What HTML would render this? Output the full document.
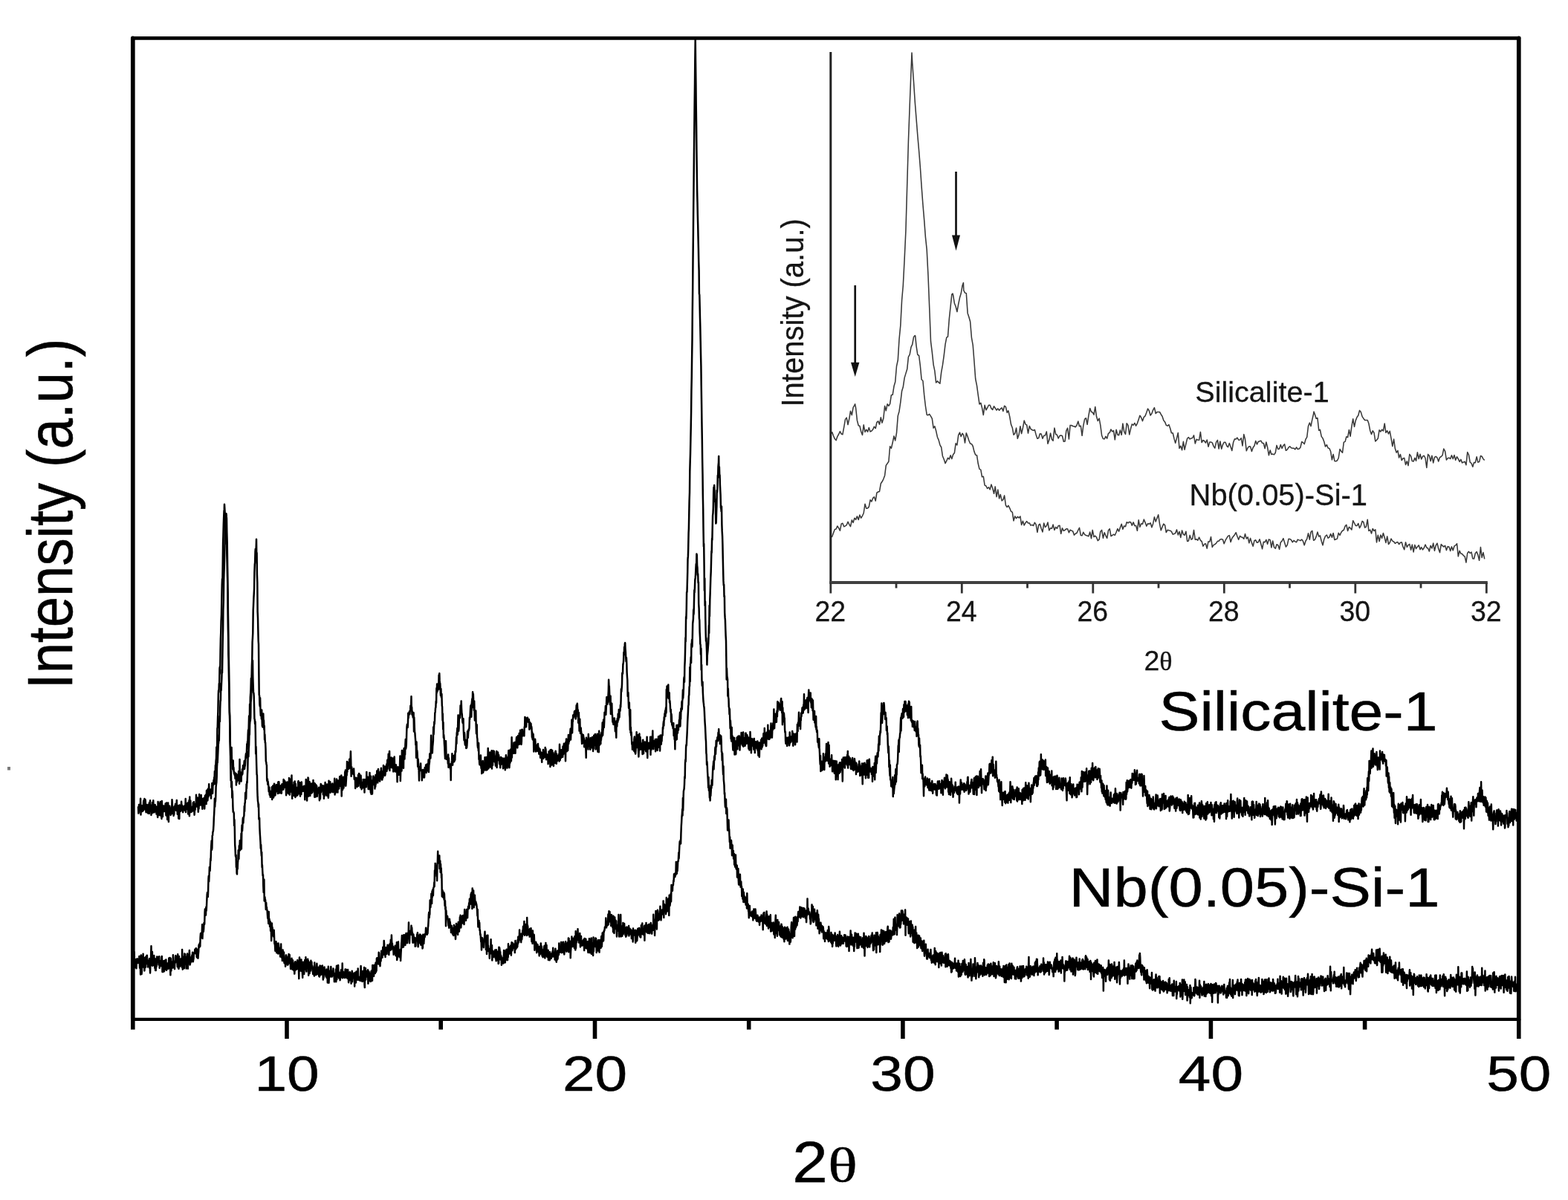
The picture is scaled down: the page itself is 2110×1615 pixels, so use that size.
<!DOCTYPE html>
<html lang="en">
<head>
<meta charset="utf-8">
<title>XRD patterns: Silicalite-1 and Nb(0.05)-Si-1</title>
<style>
html,body{margin:0;padding:0;background:#fff;}
body{width:2110px;height:1615px;overflow:hidden;}
svg{display:block;}
text{font-kerning:none;}
</style>
</head>
<body>
<svg width="2110" height="1615" viewBox="0 0 2110 1615" font-family="'Liberation Sans', Arial, sans-serif" fill="#000">
<rect width="2110" height="1615" fill="#fff"/>
<g id="main-curves" fill="none" stroke="#000" stroke-width="2.5" stroke-linejoin="round" stroke-linecap="round">
<path d="M186 1086.2l.4 8.4 .3-.8 .3-10.9 .4 1.4 .3-1.4 .4 7 .3-3.9 .4 5.1 .3-16.3 .4 21.6 .3-10.5 .4 5 .3-5.1 .4-1.5 .3 5.4 .4 2.3 .3-6.4 .4 .3 .3 5.4 .4-9.8 .3-4 .4 12.1 .3-6.7 .4-7.8 .3 7 .4 2.3 .3-8.3 .4 1.9 .3 9.7 .4 5.5 .3-7.1 .4-3.2 .3 7.2 .4 2.1 .3-6.3 .4 5.3 .3 3.2 .4-8.5 .3-3.1 .4 7.4 .3-.6 .4 5.4 .3-15 .4 1.8 .3 1 .4-5.6 .3 11.8 .4 2.5 .3-7.9 .4 13.4 .3-3.6 .4-1.2 .3-1.4 .4 3.5 .3-14.3 .4 12.2 .3 0 .4-14.9 .3 13.3 .4-3.7 .3 6.5 .4-7.7 .3 2.7 .4 2.3 .3-7.6 .4 9.3 .3-4.4 .4 3.8 .3-6.4 .4 10.1 .3-3 .4-4.9 .3 5.2 .4 3.9 .3 3.4 .4-21.2 .3 15.5 .4-2.6 .3-3.5 .4-5.7 .3 14.3 .4-15.9 .3 11.6 .4 4.6 .3-18.2 .4 8.2 .3-6.4 .4 9.9 .3 8 .4 3.2 .3-23.9 .4 7.6 .3 8.1 .4 5.5 .3-7.3 .4-7.3 .3 6.6 .4-2 .3-1.1 .4-3.3 .3 7.1 .4-.5 .3-2.5 .4-.8 .3-6.7 .4 5.1 .3 10.7 .4-8.8 .3-7.9 .4 17.5 .3-5 .4 10 .3-12.9 .4-3.3 .3-6.2 .4 17.5 .3 7.9 .4-21.4 .3 1.2 .4 7.8 .3-8.9 .4 3.5 .3-.5 .4 3.5 .3 5.7 .4-6.8 .3 5.6 .4-8.4 .3 4.6 .4-15.6 .3 4.3 .4 14.1 .3-8.7 .4 7.3 .3-.3 .4 4.9 .3-3.3 .4 1.3 .3-7.2 .4-3.7 .3-.3 .4 1.5 .3-4.1 .4 3.7 .3 2.8 .4 2.1 .3-4.8 .4-9 .3 11.6 .4 1.9 .3 5.3 .4-3.2 .3-7.7 .4-.6 .3 17.2 .4-8 .3 6.8 .4 1.8 .3-18.6 .4 7.5 .3 .4 .4 .6 .3-.1 .4-2.2 .3-.2 .4-10.6 .3 8.4 .4-3.8 .3 5.5 .4-3.8 .3 6.8 .4 1.2 .3-3.2 .4 0 .3-1.5 .4-3.4 .3 1.7 .4-2.1 .3 5.5 .4-2.4 .3 3.5 .4-16.2 .3 18.1 .4-10.5 .3 .2 .4 3.3 .3-2.3 .4 5.3 .3-5.5 .4-3.2 .3 1.4 .4 13.6 .3-8.1 .4-7.6 .3 7.3 .4-9.9 .3 21.1 .4-25.8 .3 17.4 .4 .4 .3-12.6 .4 11 .3 4.3 .4-3.4 .3-1.3 .4 4.3 .3-5 .4 1 .3-2.9 .4 4.7 .3-10 .4 10.9 .3-8.2 .4-3.7 .3 9.1 .4 8.3 .3-4.6 .4-9.6 .3 7.4 .4-7.5 .3 1.8 .4 1.1 .3-15.5 .4 15.6 .3-8 .4 1.8 .3-5.1 .4-.6 .3 3.4 .4 10.8 .3 5.1 .4-11 .3 6.8 .4-8.8 .3-10.7 .4 12.8 .3 1.6 .4-5.8 .3 4.3 .4 1.5 .3-9.4 .4-4.1 .3 7.6 .4-.2 .3-1.1 .4 8.2 .3 4.3 .4-13.7 .3 6.7 .4 1.3 .3-1.7 .4 1.8 .3-9.3 .4 6.8 .3 7.7 .4-8.2 .3-9.4 .4 7.2 .3 3.6 .4-6.1 .3-6.3 .4 12.7 .3-18 .4 10.5 .3-3.8 .4-7.9 .3 14.8 .4-6 .3-10.1 .4 10.7 .3-7 .4-9.8 .3 7.2 .4 5.5 .3 1.9 .4-3.5 .3-1.2 .4 2.1 .3-4.7 .4 11.9 .3-10.7 .4 .5 .3 .9 .4-11.3 .3 .9 .4 12.9 .3-8.8 .4-5.2 .3 2.7 .4-6.5 .3 3.5 .4-7.2 .3 4.7 .4-12.9 .3 17 .4-12.9 .3-12 .4 1.8 .3-7.8 .4-3.6 .3-15 .4 4.1 .3 11.7 .4-41.4 .3-.3 .4-14.6 .3-7.3 .4-23.1 .3-5.3 .4 2.1 .3-11.3 .4 2.5 .3-22.8 .4-2.5 .3 9.1 .4-31.2 .3-15.5 .4-9.1 .3-14.6 .4-9 .3-19.1 .4-20.2 .3-8.4 .4 1.3 .3-18.6 .4-31.3 .3-9 .4-15.4 .3-8.6 .4-9.5 .3-2.3 .2-7.1 .2 3.6 .3 5.2 .4 6.1 .3 7.3 .4 8.1 .3 4.4 .4 2.6 .3 16.1 .4-1 .3 14.6 .4 11.9 .3 17.7 .4 15.9 .3 7.8 .4 47.3 .3 22.3 .4 16.6 .3 31.2 .4 19.3 .3 22.6 .4 5.2 .3 34.4 .4 8.2 .3 10.2 .4 4.8 .3 .8 .4-12.9 .3-3.2 .4 20.9 .3-.1 .4 8.2 .3-5.5 .4 3.6 .3-9.4 .4 13.6 .3-4.2 .4 6.4 .3 2.1 .4-2.2 .3 4.1 .4-1.1 .3 5.5 .4-1.1 .3-5.9 .4 .3 .3 15.3 .4-11 .3 7.5 .4-3.1 .3-5.4 .4-1.5 .3 5.1 .4 .4 .3 1.8 .4-12.2 .3 3.8 .4 2.7 .3 10.3 .4-32.9 .3 24.7 .4-6.6 .3 5.7 .4-6.3 .3 5 .4 7.2 .3-8.1 .4 .1 .3-.8 .4-7.5 .3 6.5 .4-6.3 .3-5.3 .4 3.3 .3-2.8 .4 4.6 .3-6.6 .4-4.6 .3 10.9 .4-4.5 .3 .2 .4-5.9 .3-6.2 .4-3.7 .3-.9 .4 6 .3-7 .4-11.8 .3 7.3 .4-10.4 .3 4.5 .4-14.2 .3-5.8 .4 3.2 .3-6.7 .4-15.5 .3 9.7 .4 3.5 .3-29.1 .4 13.8 .3-22.8 .4-5.8 .3-5 .4-15 .3 10.3 .4-12.1 .3-14.8 .4-10 .3-21.9 .4-6.6 .3-5.9 .4-30.7 .3-5.9 .4-10.4 .3-5.2 .4-7.7 .3-21 .4-11.4 .3-2.1 .4-14.8 .3-3.9 .4 4.6 .3-.4 .4-13.1 .1-4.1 .2 17 .4 1.5 .3 28.8 .4 10.5 .3 39.5 .4 8.1 .3 15 .4 16.6 .3 4.4 .4 41.3 .3 26.8 .4 .9 .3 11.6 .4 3 .3-11.6 .4 18.3 .3 5.4 .4-4.4 .3 .9 .4 8 .3-11.9 .4 13 .3 8.8 .4-13.5 .3 14.8 .4-8.2 .3-9.8 .4 13.1 .3-4.2 .4 12.5 .3-5 .4 18.4 .3-6.9 .4 11.2 .3-.4 .4 8.7 .3 16.5 .4 .9 .3 3.1 .4 1.6 .3 20 .4 1.1 .3-2.8 .4 7.4 .3-4.1 .4 3.9 .3 1.7 .4 8 .3 .1 .4-6 .3 9.9 .4 .8 .3-3.3 .4 5.9 .3-7.8 .4 1.6 .3 4.3 .4-3.2 .3 4.9 .4-13.2 .3 16.6 .4-14.2 .3 3.6 .4-7.9 .3 12.1 .4 4 .3-1.6 .4-1.8 .3-15.4 .4 4.6 .3 1.7 .4-3.3 .3 12.7 .4-6.2 .3-1.6 .4 2.9 .3-9.4 .4 .1 .3 0 .4 8.6 .3-1.1 .4 1.3 .3 3.1 .4-15.5 .3 4.9 .4 4.3 .3-9.6 .4 5.1 .3 9.6 .4 .4 .3-.3 .4-6.6 .3-1.8 .4 8 .3-9.3 .4 4.4 .3 6.1 .4-10.8 .3-1.7 .4 3.7 .3 3.8 .4-.7 .3-2 .4 2.5 .3-13.5 .4 4.7 .3 6.5 .4-6.9 .3-2.6 .4 .9 .3 1.9 .4 4.1 .3-4.7 .4 7.9 .3 9.3 .4-11.6 .3 9 .4-6.2 .3-8.8 .4 5.4 .3-4.5 .4 11.1 .3-12.1 .4 15.6 .3-4.6 .4-16.4 .3 17.7 .4 4.9 .3-14.7 .4 11.2 .3-17.5 .4 12.9 .3-12 .4 13.6 .3-14.3 .4-5.3 .3 19.1 .4 12 .3-18.2 .4 9 .3-4.4 .4-2.8 .3 6 .4 6.5 .3-18.1 .4 11.4 .3-1.4 .4-11.1 .3 19.2 .4 2.1 .3-18.2 .4 17 .3-10.6 .4-1.3 .3 10.5 .4-8 .3 .6 .4 7.6 .3-1.4 .4-2.5 .3-14.4 .4-1.1 .3 17.1 .4-12.9 .3 6.8 .4-7.7 .3 5.7 .4-6.9 .3 18.4 .4-16.7 .3 5.7 .4-.4 .3 8.8 .4-16.5 .3 8.8 .4-1.1 .3 4.7 .4-.3 .3-5.9 .4 4.5 .3-3.9 .4 5.4 .3-3.6 .4-3.4 .3 3.9 .4 2.5 .3 12.1 .4-17.4 .3 5.1 .4 7.3 .3-22.3 .4 2.1 .3 3.5 .4 6.8 .3 16.1 .4-12.9 .3 5.1 .4-9 .3-14.1 .4 .9 .3 24.2 .4-8.4 .3-9.4 .4 15.2 .3-16.7 .4 16.8 .3 2 .4-13.9 .3-2.2 .4 12.3 .3-12.2 .4 12.3 .3-12.9 .4 12.6 .3-4.5 .4-3.3 .3-2.9 .4 7.1 .3-13.4 .4 10.2 .3-.8 .4 6.8 .3-12.2 .4 18.7 .3-12.8 .4-5.2 .3 15.9 .4 1.8 .3-11.7 .4-4.4 .3 5.7 .4-4.4 .3 2.3 .4 11.8 .3-7.3 .4-1.6 .3 1.3 .4-2.6 .3 5.7 .4 .2 .3-7.8 .4 3 .3 14.5 .4-12.5 .3-3.9 .4 14.1 .3-12.8 .4-7 .3 11.1 .4-9.9 .3 2.6 .4 5.2 .3-2.9 .4-4 .3 1.3 .4-.2 .3 11 .4-11.8 .3 .9 .4 16.4 .3-16.3 .4 12.9 .3-1.1 .4-9.3 .3-7.9 .4 11.8 .3 1.3 .4 1.9 .3-5.6 .4 7.1 .3 1.2 .4-15.4 .3 15.6 .4-7.9 .3-4.7 .4 1.6 .3 13.8 .4-5.6 .3-17.5 .4 11.8 .3-1.5 .4-.3 .3-2.3 .4-6.1 .3 14.5 .4-11.5 .3 3.5 .4-1.6 .3-.9 .4 9.1 .3-2.4 .4-6.8 .3-1.8 .4 2.9 .3 8.9 .4-5.4 .3 .5 .4-3.7 .3 .4 .4 2.8 .3-13.1 .4 21.7 .3-15.3 .4 1.3 .3 11.8 .4-7.1 .3-1.3 .4-4 .3-6.3 .4 10.8 .3 6.3 .4-13.4 .3 14.2 .4-15.8 .3 2.3 .4 7.7 .3-3.3 .4 4.2 .3-9.2 .4-1.9 .3-5.4 .4 4 .3 .7 .4-2.3 .3 10.8 .4-6.3 .3-8.4 .4 28 .3-21 .4-2.8 .3 15.6 .4-.6 .3-14.8 .4-2.1 .3 2.4 .4 12.2 .3-10.2 .4-4.3 .3 3.8 .4 6.6 .3-17.6 .4 5.2 .3-7.4 .4 21.2 .3-3.4 .4-6.6 .3-8 .4 3.8 .3-18.6 .4 13.8 .3-11.3 .4-1.1 .3 2.8 .4 1 .3 4.7 .4-.4 .3-3.9 .4-8.8 .3 9.1 .4-6.2 .3 8.8 .4-11.9 .3-10.3 .4 15.7 .3 17.8 .4-9.2 .3-2.9 .4 8.1 .3-1.1 .4 1.1 .3-4.9 .4 4.8 .3 1.3 .4-4.8 .3-2.5 .4 8.4 .3 5.8 .4-1.5 .3-.5 .4 .6 .3 13.6 .4-14.2 .3 5.5 .4 6.2 .3-11.4 .4 1.8 .3 5.4 .4 4.6 .3-8.2 .4 .8 .3-1.2 .4-7.6 .3 15.1 .4-8.1 .3-8.8 .4 10.5 .3-9.5 .4 4.8 .3 6.4 .4-5.9 .3 12.6 .4-16 .3 10.9 .4 1.9 .3 5.6 .4-3.3 .3-4.4 .4-.9 .3-.9 .4 7.5 .3-11.3 .4 7.4 .3-3.8 .4 2.1 .3-3.2 .4 15.1 .3-17.6 .4 5.8 .3 .1 .4 2.1 .3-1 .4-.2 .3 3.6 .4-20.4 .3 14.2 .4-7.8 .3 9.2 .4-8.9 .3 1.4 .4 5.7 .3 9.2 .4-5.2 .3-1.8 .4 7 .3-14.8 .4-7.2 .3 10.5 .4 .9 .3 9.6 .4 5.7 .3-21.9 .4 24 .3-5.8 .4-4.5 .3-3 .4 13 .3-14.8 .4-3.5 .3 3.9 .4-9.5 .3 11.6 .4-3.7 .3 2.8 .4 .2 .3-9 .4 15 .3-14.7 .4 12 .3-15.6 .4 12.3 .3-7.9 .4 5 .3-4.9 .4-10.2 .3 6.2 .4 6.9 .3 3 .4-13.7 .3-4.7 .4 7.4 .3 3.6 .4-3.1 .3-1.7 .4 10 .3 .2 .4-2 .3-11.1 .4 5.9 .3-2.2 .4-8.3 .3 14 .4-5.5 .3-4.2 .4 11.5 .3-4.7 .4 .1 .3 1.6 .4-3.5 .3-13.1 .4 5 .3 8.3 .4-11.7 .3 4.6 .4 1.7 .3 5.9 .4-1.7 .3-3.3 .4-7.6 .3 6.1 .4-1.5 .3-7.3 .4 9.2 .3-6.2 .4-8.7 .3 11.9 .4-10.3 .3 4.5 .4-14.1 .3 8.6 .4-6.6 .3-.8 .4-5.1 .3 26.2 .4-13.7 .3 3.2 .4 6.2 .3-7.1 .4 4.8 .3-11.1 .4 10.5 .3-3.1 .4 6.5 .3-1.3 .4-9.2 .3-2.2 .4 6 .3 11.8 .4-1.3 .3 .5 .4-15 .3-4 .4 13.2 .3 2.1 .4-1.5 .3 6.2 .4-3.1 .3-6.2 .4 2.2 .3 6.7 .4-.3 .3-.7 .4 15 .3-15.7 .4 2.6 .3-6.8 .4 4.2 .3 5.8 .4 .5 .3-4.4 .4 3.7 .3-1.9 .4-12.5 .3-10.3 .4 33.7 .3-10.8 .4-7.1 .3-12.1 .4 1.4 .3 15.1 .4-27.6 .3 14 .4 6 .3-6 .4 2.3 .3-7.1 .4 14.5 .3-23.1 .4-3.6 .3 8.8 .4 5.8 .3-10.9 .4 4.9 .3-13.3 .4-7.4 .3 12.9 .4-2.3 .3-3.6 .4-15.8 .3-7.9 .4-3.4 .3 2.6 .4 1.7 .3-3.8 .4-15.6 .3 6.9 .4-4.5 .3-.7 .4-1.8 .3-2.3 .4 3.9 .3-4.1 .4-.5 .3-6.9 .4 5.7 .3-4.4 .4-13.7 .3 16.8 .4-2.3 .3 10 .4-4.4 .3 2.8 .4 4.4 .3 1 .4-.3 .3-6 .4 25.3 .3-19.1 .4 10.3 .3 8.8 .4 1.8 .3 4.7 .4 4.7 .3 6.7 .4-2.6 .3 19.9 .4-21.2 .3 11.3 .4-.2 .3 2.4 .4 8.7 .3 10.9 .4-10.2 .3 3.5 .4 10.2 .3-.5 .4 15.8 .3-11.3 .4-4.4 .3-2.8 .4 4.2 .3-1.8 .4-6.8 .3 9.4 .4-.5 .3 .3 .4-.5 .3 14 .4-5.5 .3 2.2 .4-9 .3-1.9 .4 4.9 .3 2.8 .4-4.4 .3 .4 .4 6.7 .3-4.8 .4-8.7 .3 2.9 .4-2.1 .3 4.7 .4-9.1 .3 5.6 .4 4.9 .3-4.8 .4-6.5 .3 1.2 .4 4.1 .3 1.7 .4 1.6 .3-6.8 .4-8 .3 16.7 .4-9.2 .3-1.7 .4-2.9 .3-10.8 .4 2.2 .3 2.1 .4 1.7 .3-8.5 .4-22.3 .3 15.8 .4 1.4 .3 3.6 .4-6 .3 8.9 .4-9.1 .3-2.8 .4-4.9 .3-18.2 .4 10 .3-5.6 .4-11.2 .3 3 .4-5.2 .3-9.6 .4-1.9 .3-4.9 .4-1 .3-8.2 .4 2.1 .3-19.6 .4 6.2 .3-12.1 .4 5.4 .3 4.1 .4-5.4 .3-3 .4-1.1 .3 7.2 .4-19 .3 10.3 .4-12.7 .3 9.7 .4 7.1 .3-3.2 .4 9.8 .3 6.4 .4-8.9 .3 10.2 .4 1.7 .3-4.9 .4 15.9 .3 1.1 .4 18.3 .3-9 .4 21.1 .3-9.2 .4 20.5 .3-3.9 .4 4.4 .3 7.1 .4 5.5 .3 8 .4 7 .3-11.7 .4-4.3 .3-7.6 .4 15.8 .3 8.6 .4-1 .3-.2 .4-1.6 .3-.4 .4 3.6 .3 5.6 .4-12.1 .3 17.1 .4-12.4 .3 9.5 .4-1.6 .3 3.1 .4-2.9 .3 .7 .4 5.9 .3-6.4 .4 21.4 .3-19.1 .4-2.5 .3-.2 .4-4.3 .3-9.7 .4 12.9 .3 2.6 .4-12.4 .3 8.6 .4-8.6 .3 6.4 .4 1.5 .3-.1 .4-1.3 .3-8.1 .4 6.9 .3-11.7 .4 1.7 .3-1.2 .4-9.7 .3-9.5 .4 8.6 .3-14.3 .4-1.9 .3-4.7 .4 8.9 .3-9.7 .4-16.5 .3 15.4 .4 5.8 .3-3.7 .4-17 .3 2 .4 .7 .3 .4 .4-7.5 .3-9.1 .4 9.6 .3-2.9 .4-12.9 .3 9.1 .4 7 .3 1.2 .4 6.3 .3 4.7 .4 1.4 .3-1.1 .4-4.8 .3 15.3 .4 7.7 .3 6 .4-10.2 .3 2.4 .4 11.8 .3 2.4 .4-4.4 .3 4.8 .4-6.9 .3 10.9 .4-6.4 .3 5.9 .4-3.2 .3-5.5 .4-13.6 .3 4.7 .4 4 .3-5.8 .4-5.4 .3 1.8 .4-1.7 .3-2.3 .4-13.7 .3 2.3 .4-5.1 .3-6.2 .4-6.7 .3 6.1 .4-7.7 .3 16.3 .4-17 .3-3.6 .4-3.9 .3 11.6 .4-20.6 .3 3.1 .4-.5 .3 7.5 .4 4 .3 10.5 .4-12.4 .3 12.2 .4 13.7 .3-10 .4 5.5 .3-1.1 .4-7.4 .3 19.3 .4 11.6 .3-6.9 .4-5.1 .3 16.8 .4 2.3 .3 9.3 .4 2.9 .3-3.9 .4 7.7 .3-10.3 .4 21.8 .3-2.3 .4 8.1 .3 1.6 .4-6.7 .3 2.6 .4-2.8 .3-5.8 .4 14 .3 3.5 .4-6 .3 13 .4-4 .3 1.9 .4-8.2 .3-6.7 .4 15.6 .3-1.5 .4-4.9 .3-2.4 .4 .5 .3 .4 .4-2.7 .3-9.9 .4 17.2 .3-14.8 .4 6.9 .3-.3 .4 3.2 .3-12.3 .4 17.4 .3-3.9 .4 .3 .3 2.7 .4-13.5 .3-15.1 .4 21.4 .3 5.8 .4-1.4 .3-11.1 .4 2.4 .3 1.9 .4-13.6 .3 6.8 .4-.3 .3 13.6 .4-14.5 .3 13.6 .4-10.3 .3-11 .4 24.1 .3-20.5 .4 11.5 .3 4.5 .4-14.5 .3-4.8 .4 14 .3-5.9 .4-7.8 .3 1.2 .4 4.6 .3 8.8 .4-7.7 .3 6.2 .4 6.6 .3-2.2 .4 1.4 .3-1.1 .4-17.6 .3 21.9 .4-9.2 .3-2.6 .4-5.8 .3-2.9 .4 3.3 .3 7.1 .4-7 .3 2.5 .4 1.6 .3 8.3 .4-5.8 .3 1.2 .4 9.6 .3-10.2 .4 6.1 .3-10.2 .4 9 .3-1 .4 1.1 .3-4.3 .4-3.3 .3 4.9 .4-.8 .3 9.7 .4-.5 .3-13.1 .4 11.8 .3-6.7 .4 6.2 .3-5.7 .4-5.9 .3 15.9 .4-3.9 .3-11.3 .4-4.9 .3 7.8 .4-4.9 .3 4.4 .4 5.5 .3 4.6 .4-12.3 .3 10.2 .4-2.1 .3-10.8 .4-8.5 .3 15.1 .4-2.3 .3 10.3 .4-6.6 .3-4.8 .4 4.9 .3-18 .4 7.1 .3-3.7 .4 12 .3-8.2 .4-23.6 .3 27.2 .4-15.1 .3 9.9 .4-8.7 .3 3.8 .4 1.7 .3-3.5 .4-8 .3 14.1 .4-7 .3-3.4 .4 4 .3-8.3 .4 14.7 .3-10.9 .4 .4 .3-.6 .4-8.4 .3-2.2 .4 8.3 .3 .4 .4 5.8 .3-6.1 .4-10.2 .3 9.7 .4 1.4 .3 .6 .4-4.7 .3-10.3 .4 14.5 .3-12.4 .4 7.8 .3-14 .4 14.2 .3-10.2 .4 11.2 .3 3.9 .4-4.3 .3-15.6 .4 .4 .3-.6 .4 8.6 .3-3.1 .4-2.2 .3-.1 .4 .7 .3-.6 .4 5.4 .3-12 .4 .6 .3-14 .4 2.3 .3 2.9 .4-4.2 .3 7.8 .4 4.4 .3-9.8 .4-.8 .3-.7 .4 3.6 .3-4.8 .4 5.6 .3-1.2 .4-.3 .3 2.2 .4-4.1 .3 2.1 .4 11.6 .3-10 .4 6.7 .3-3.2 .4-1.9 .3 1.4 .4-.9 .3 6.7 .4-2.5 .3 2.5 .4 11.8 .3-7.1 .4 9.5 .3-4.1 .4 5.2 .3-7.8 .4 6.2 .3 17.2 .4-10 .3 2.6 .4-3.4 .3 5.4 .4-11.3 .3 3.5 .4 9.5 .3 3.9 .4-6.3 .3 2.9 .4-.3 .3 1.4 .4-6 .3-1.1 .4 8.8 .3-10.1 .4 5.2 .3 2.3 .4-2.1 .3 8.5 .4-4 .3 2.6 .4-5.5 .3 2.1 .4 9.7 .3-2.4 .4-5.1 .3 5.4 .4-1 .3-.1 .4 9.2 .3-12.4 .4 5.3 .3 .1 .4-4 .3-5.7 .4 11.8 .3-2.6 .4-1.2 .3-.1 .4 .2 .3-5.7 .4 7.6 .3-13.1 .4 11.4 .3-9.2 .4 7.3 .3 6.9 .4-6 .3-1.3 .4 6.4 .3-4.8 .4-.8 .3 .3 .4 12.1 .3-5.2 .4-1.1 .3-10.4 .4 11.6 .3-12 .4 11.3 .3-9.9 .4 19.5 .3-22.8 .4 18.4 .3-2.5 .4-16.1 .3 9.8 .4 10.7 .3-1.8 .4-17.7 .3 7 .4-4.3 .3 .7 .4 2.2 .3 15.4 .4-11 .3-2.5 .4-.9 .3 8 .4-2 .3-10.3 .4 14.8 .3-16.3 .4 4.9 .3 4.3 .4 7.7 .3-13.1 .4 3.7 .3 6.2 .4-4.5 .3 3 .4-.8 .3-5.1 .4 2.1 .3 1.6 .4-6.2 .3 10 .4-22.8 .3 6.5 .4 14.7 .3-6.6 .4-7 .3 6.2 .4 4.3 .3-10.6 .4 8.1 .3-5.8 .4-.2 .3 .1 .4 7.2 .3-14.2 .4 4.5 .3 6.2 .4-12 .3-2.5 .4 12.8 .3-4.4 .4-1.8 .3 1 .4-7.8 .3 23.7 .4-25.4 .3 2.6 .4-7 .3 5.5 .4 11.4 .3-10.3 .4 2.8 .3-7.6 .4 13.7 .3-11.2 .4-9.7 .3 11.9 .4-8 .3 5.3 .4-3.8 .3 0 .4-1.6 .3-7.4 .4-4.6 .3 14.7 .4-9 .3 .7 .4-6.7 .3-11.8 .4 2.8 .3 14.8 .4-15.7 .3 .6 .4-8.8 .3 4 .4-1 .3-1.9 .4-.1 .3-5.5 .4-.8 .3 2.4 .4 1.1 .3-4 .4 10.9 .3-10.8 .4-1.3 .3-6.2 .4 10.4 .3-11 .4-1.8 .3 5.9 .4 12 .3-9.2 .4 17.3 .3-6.4 .4-7.4 .3 10 .4 14.6 .3-14.7 .4-1.3 .3 12.9 .4 6.4 .3-.3 .4-7 .3 4.7 .4 2.3 .3 6.8 .4 7.6 .3-12.8 .4 10.4 .3-8.9 .4 7.3 .3-8.1 .4 2.5 .3 8.9 .4-6.8 .3 11.7 .4-9 .3 4 .4-.9 .3-1.5 .4 3 .3 6 .4 12.9 .3-27 .4 9.4 .3-2.9 .4-4.6 .3 7.6 .4-7.2 .3 5.1 .4 8.4 .3-20.5 .4 14.3 .3 1.4 .4-8.8 .3 9.4 .4-1 .3-4.4 .4 9.9 .3-15.8 .4 12.4 .3-5.5 .4-5.1 .3 5.6 .4-1.2 .3 7.3 .4-14.6 .3 8.1 .4-1.8 .3 12.7 .4-17 .3 13.6 .4-17.8 .3 13.1 .4-3.1 .3 3.1 .4-6.9 .3-7.9 .4 2.5 .3 17.9 .4-7.1 .3-6.8 .4 11 .3-10.5 .4 0 .3-7.2 .4 19.1 .3 4.8 .4-18.5 .3 7.8 .4 4.2 .3 7.1 .4-28.5 .3 15.9 .4 3.1 .3-13.5 .4 11.8 .3-1.4 .4 1.4 .3-10.4 .4 5.2 .3-9.6 .4 5.4 .3-4.9 .4-5.6 .3-8.7 .4 17.2 .3-5.6 .4-3.6 .3-11.9 .4-.2 .3 10.6 .4-8 .3-12.2 .4 3.5 .3-1.4 .4-4.1 .3-6.7 .4 11.9 .3-6.2 .4-6.9 .3-10.6 .4 4.2 .3 1.7 .4 3.5 .3-9.7 .4 7.3 .3-8 .4-7.6 .3-14.9 .4 8.3 .3 .2 .4 10.7 .3 5.4 .4 8.9 .3-6.6 .4-5 .3 24.4 .4-10.6 .3-1.3 .4 1.2 .3-3.6 .4 14.8 .3 .6 .4 9.4 .3-1.2 .4 .3 .3 4.3 .4-7.9 .3 .9 .4 4.3 .3-5.8 .4 8.8 .3 .7 .4 8.1 .3-2.5 .4-10.1 .3 14 .4 7.2 .3-22.5 .4 4.6 .3 2.8 .4-10.5 .3 2.8 .4 1.7 .3-10.8 .4 8.1 .3-1.4 .4-12.6 .3 6.1 .4 4.5 .3-10 .4 1.7 .3-.7 .4-7.7 .3 2.9 .4-9.8 .3-14.6 .4 3.6 .3-3.8 .4-6.3 .3-15.1 .4 1.1 .3-.2 .4-13.2 .3 .1 .4-4.3 .3-11.2 .4 3.5 .3-10.7 .4 9 .3-13.4 .4-1.3 .3 8 .4 4.5 .3 7.6 .4 5.3 .3-5.5 .4 8 .3 11.7 .4 6.8 .3 3.5 .4 22 .3-3.5 .4-1.5 .3 11.1 .4 9.8 .3-.1 .4-7.3 .3 16.6 .4 3.4 .3 16.8 .4-27.1 .3 30.8 .4-7.1 .3 10.6 .4-4 .3 6.6 .4 9.7 .3-2.9 .4 9.8 .3-7.2 .4-2 .3 1.2 .4-1.8 .3 2.4 .4 9.3 .3-15.9 .4-3.1 .3 10.4 .4 10.7 .3-4 .4 5.9 .3-4.6 .4-14.7 .3 7.5 .4-17.5 .3 13 .4 7.6 .3-13.6 .4-3.2 .3 4.8 .4 9.6 .3 6 .4 9 .3-7.3 .4-18.6 .3-5 .4 15.5 .3 5.8 .4-16.9 .3 6.9 .4 .5 .3 3.1 .4-1.4 .3 4.4 .4 3.5 .3-6.2 .4 4.3 .3 7.8 .4-19 .3-.1 .4 9.8 .3 8.5 .4-10.6 .3 5.8 .4-8.8 .3 7.7 .4-9.7 .3 8.2 .4-1.7 .3 0 .4 6.2 .3-2 .4-10.5 .3 9.4 .4-16.3 .3 17 .4 11.1 .3-14 .4-.1 .3-2.8 .4 4.9 .3-8.1 .4 7.1 .3-5.9 .4-1 .3 3.5 .4-1.1 .3-10.6 .4 23.9 .3-12.2 .4-11.7 .3 17.4 .4-7 .3 2.4 .4 2.1 .3-10.2 .4-13 .3 17.9 .4 2.1 .3 4.7 .4-11.2 .3 3 .4 4.1 .3-4.5 .4 .3 .3 3.1 .4-7.9 .3 16.1 .4-15.8 .3 5.9 .4-2.3 .3-4.3 .4 9.5 .3 3 .4 2.7 .3-5.6 .4-6.6 .3 8.2 .4-14.6 .3 9.3 .4 2.9 .3 .2 .4-10.9 .3-2.2 .4 19.8 .3-13.8 .4-7.2 .3 1.6 .4 6.1 .3 4.7 .4-9.6 .3 5.4 .4-8.3 .3-.6 .4 1 .3-10.7 .4 2 .3-6.5 .4-3.7 .3 5.9 .4-11.4 .3 3.4 .4-8.2 .3 1.6 .4-5.5 .3 7.5 .4-9.1 .3-2.7 .4 7.1 .3-31.3 .4 8.4 .3-13 .4 14.5 .3 .1 .4-1.5 .3-5.1 .4-9.9 .3 18.3 .4-5.7 .3-.1 .4-1.9 .3 13.2 .4-2.2 .3 3.7 .4 7.6 .3 3.6 .4-3.1 .3 16.6 .4-10.7 .3 2.8 .4 11.4 .3 .6 .4 1.4 .3-1.3 .4 4.6 .3-2 .4-5.1 .3 16.7 .4-9.2 .3 6.6 .4 7.8 .3-3.1 .4 16.2 .3-27.1 .4 3.1 .3 4.3 .4 7 .3-11.1 .4-8.5 .3 18.9 .4-17.7 .3 3.6 .4 5.8 .3-10.8 .4 .4 .3 6.5 .4-6.9 .3 2.1 .4-8.8 .3 3 .4-8.3 .3-5.1 .4 18.7 .3-10.4 .4 .7 .3-14.1 .4 3.8 .3-3.3 .4-9.9 .3 10.2 .4-11.6 .3-1.4 .4-12.9 .3 11.1 .4-6.1 .3-7 .4-12.9 .3-2.3 .4 6.4 .3-20.6 .4-7.8 .3-12 .4-19.1 .3 5.4 .4-33.3 .3 2.7 .4-14.1 .3-21.9 .4-.1 .3-11.1 .4-15.3 .3-17.8 .4-4.3 .3-10.4 .4-21 .3-5.9 .4-20.9 .3-15.9 .4-11.5 .3-28.3 .4-14.6 .3-9.5 .4-20.4 .3-14.2 .4-22.7 .3-26.5 .4-20.2 .3-23.5 .4-25.6 .3-37.2 .4-33.3 .3-37.6 .4-36.6 .3-36.3 .4-35.7 .3-31.6 .4-33.1 .3-30.2 .4-32.2 .3-31.5 .4-30 0 0 .3 30 .4 29 .3 30.4 .4 29.3 .3 31.9 .4 30.3 .3 23.5 .4 15.8 .3 16.1 .4 14.4 .3 15 .4 16.8 .3 17 .4 12.7 .3 31 .4 1.9 .3 13.3 .4 18.2 .3 11.2 .4 19.3 .3 16 .4 17.7 .3 25.2 .4 26.3 .3 23.2 .4 24 .3 25.1 .4 21.8 .3 26.8 .4 19.5 .3 25.9 .4 24.9 .3-3.7 .4 30.1 .3 32.8 .4-16.3 .3 36.5 .4-5.3 .3 24.3 .4 18.9 .3 10 .4-4.1 .3 8.4 .4 10.1 .3 17.4 .4-12.4 .3-3 .4-3.9 .3-4.5 .4-4.6 .3-8.1 .4-16.3 .3 10.2 .4-37 .3 14.6 .4-22.1 .3-8 .4-12.5 .3-9.6 .4-8.3 .3-12.1 .4-15.2 .3 2.1 .4-19.1 .3 1.9 .4-19.5 .3-13.6 .4-3 .3-7.3 .4-21.5 .3-6.1 .4 5.6 .3-8.2 .4 8.1 .3 13.5 .4-1.6 .3-.7 .4 12.1 .3 20 .4-1.1 .3-10.9 .4-11.8 .3-20.7 .4 2.5 .3-4 .4-18.7 .3 3.4 .4-15.3 .3-3.5 .2-1.8 .2-8.7 .3 23.8 .4-9.3 .3 10 .4 1.3 .3 12.7 .4 7.8 .3 5.8 .4 17.2 .3 1.3 .4 4.2 .3-7.2 .4 24.8 .3 8.6 .4 7 .3 10.7 .4 19.8 .3 13.5 .4 16 .3 5.9 .4-1.1 .3 16.2 .4-.9 .3 22.5 .4 6.9 .3 3.2 .4 12.5 .3 8.4 .4 6.9 .3 21.6 .4 30.5 .3-15 .4 10.8 .3 1.4 .4 2.9 .3 22.2 .4-10 .3 11 .4 2.9 .3 10.7 .4 1.2 .3 8.7 .4-7 .3 12 .4 13.9 .3-10.4 .4 6.9 .3 17.5 .4-3.3 .3 6.6 .4-18.4 .3 17.5 .4-6.5 .3 1.7 .4 13 .3 4.7 .4-17 .3 2.3 .4 3.2 .3 2.7 .4-7.7 .3 22.5 .4-10.7 .3-6.1 .4-1.2 .3 17.8 .4-.6 .3-17.4 .4 5.1 .3 5.6 .4-15.6 .3 3.7 .4 12.1 .3-13.1 .4 1.5 .3-5.9 .4 3.6 .3 9 .4-9.7 .3-3.2 .4 4.1 .3 15 .4-10.2 .3-4.8 .4 4.4 .3 1.6 .4-2.1 .3-12.4 .4 13.2 .3-3.4 .4 6.6 .3-14.1 .4 15.1 .3-10 .4-7.8 .3 19.1 .4-11.8 .3 5.6 .4-3.2 .3 8.1 .4 .2 .3 .2 .4-2.3 .3-14.7 .4-.2 .3 12.1 .4-7.2 .3 9.2 .4-1.7 .3-9.9 .4 2.5 .3-.4 .4 1.7 .3 4.5 .4 5.8 .3 4.4 .4-14.6 .3 2.8 .4 13.6 .3-4 .4-4 .3-16.3 .4 8.7 .3 7.6 .4-4.6 .3 16.5 .4-11.9 .3 1.4 .4-8.6 .3 .5 .4 2.6 .3 .4 .4 2.7 .3 4 .4-.7 .3 5 .4-14.8 .3 10.8 .4-.3 .3 8.7 .4-11.3 .3 3.6 .4-7.1 .3 8.1 .4 0 .3-6.4 .4 1.4 .3 2.7 .4 4.1 .3-10.8 .4 13.1 .3-7.7 .4 13.9 .3-3.2 .4-12.2 .3-1.8 .4 19.3 .3-12 .4-.7 .3-6.7 .4 1.6 .3 5.6 .4-1.6 .3-9.5 .4 12.8 .3-6.3 .4-8.4 .3 12.1 .4-7.8 .3 5.7 .4-8.8 .3 5.4 .4-12.9 .3 12.3 .4-12.4 .3 10.4 .4-17.5 .3 15.3 .4 4.7 .3-1.9 .4 4.2 .3-14.8 .4 16.5 .3-.1 .4-18.3 .3 2.3 .4 1.1 .3 3.1 .4 1 .3-17.5 .4 18.8 .3-6 .4-5.5 .3 11.9 .4-8.8 .3 8.7 .4-4.4 .3-6.1 .4 8.9 .3-2.9 .4-9 .3-7.7 .4 6.2 .3 8.7 .4-8 .3 12.1 .4-10.2 .3-1 .4 .7 .3-8.8 .4 3.8 .3-3.6 .4-18.9 .3 10.5 .4 15.1 .3-9.2 .4 .4 .3-10.3 .4 3.9 .3 7.1 .4-6.1 .3-5.6 .4 11.4 .3-11.8 .4-3.5 .3 7.8 .4-20 .3 12.8 .4-12.2 .3 1.2 .4-.2 .3 4.3 .4-1.1 .3 .4 .4-1.5 .3 6.7 .4 1 .3-7.1 .4-.6 .3-5.8 .4-2.3 .3 13 .4-1.3 .3 7.5 .4-14.8 .3 30.9 .4-22.8 .3 10.5 .4 8.4 .3-12.4 .4 8 .3-6.6 .4 6.4 .3-.5 .4 15.7 .3 3.9 .4-1.1 .3 12.7 .4 3.5 .3-6.1 .4-.3 .3-.4 .4-1.3 .3 11.1 .4-6.9 .3-3.7 .4 .5 .3 4.8 .4-6.1 .3 4.4 .4-2.3 .3 8.7 .4-1.3 .3-16.5 .4 7.9 .3 5.4 .4-7.5 .3 7.9 .4-3.1 .3 1.5 .4-4.3 .3 2.2 .4 1.3 .3-12.8 .4 3.5 .3-.8 .4 17 .3-8.9 .4 .4 .3-1.4 .4-4.5 .3-1.5 .4 10 .3-7.9 .4 12.3 .3-8.9 .4-1.9 .3-3.4 .4-.4 .3-.8 .4 8.1 .3 3.7 .4-23.5 .3 7.6 .4 1.4 .3-11.6 .4 .3 .3-.3 .4-13.7 .3 18 .4-5.8 .3-1.7 .4 0 .3-.1 .4 11.9 .3-14.7 .4 3 .3-9.7 .4 4.4 .3-5.4 .4-.1 .3-5.9 .4-.6 .3 6.9 .4 .7 .3-3 .4-8.3 .3 5.1 .4-19.2 .3 20.9 .4-7.4 .3 .9 .4 5.3 .3-10.5 .4 8.3 .3-9.2 .4 5.8 .3-6.4 .4 4 .3 6.9 .4-13.7 .3-.2 .4 1.4 .3 3.5 .4 15.1 .3-21.4 .4-9 .3 9.1 .4-5.5 .3 6.9 .4 4 .3-5.8 .4 2.2 .3-7.1 .4 13.3 .3-5.5 .4 12 .3 .1 .4-11.7 .3 4.6 .4 4.6 .3 6.3 .4-13.5 .3 12 .4 14.1 .3-10.4 .4 3.8 .3 .5 .4-5.6 .3 15.4 .4-2.4 .3 1.2 .4 5.4 .3 2.3 .4-14.8 .3 17.7 .4-3.9 .3 7.4 .4-2.8 .3 1.8 .4 14.3 .3-3.3 .4 1 .3 2.7 .4 5.1 .3 2.1 .4-12 .3 12.2 .4 6.7 .3 9 .4 6.6 .3-11.7 .4 20.9 .3-8.9 .4 4.3 .3-7.3 .4-1.3 .3 12.1 .4-11.2 .3-.1 .4 7.1 .3 2.8 .4-21.2 .3 7.2 .4 .6 .3 10.7 .4 3.3 .3-16.6 .4 1.8 .3 2.3 .4 1 .3-9.9 .4 7.8 .3-9.4 .4-12.1 .3 8.5 .4 10.5 .3 3.9 .4-18.8 .3 3.3 .4 11.6 .3-20.8 .4 25.2 .3 3.4 .4-24.9 .3 24 .4-5.7 .3 10.6 .4-6.8 .3-2.9 .4 2.7 .3 5.5 .4-4.3 .3-.6 .4-9 .3 12.6 .4-2.5 .3 11.8 .4-11.3 .3-.1 .4-3 .3 8.9 .4-5.5 .3-2.8 .4 14.9 .3 1.5 .4-13.7 .3-3.2 .4 13.9 .3-12 .4 23.5 .3-18.3 .4 7.3 .3-13.9 .4 8.4 .3 11.4 .4-7.7 .3-6.1 .4 18.7 .3-11.1 .4-6.4 .3-2.6 .4 1.8 .3 10 .4-13.7 .3 4.9 .4-5.7 .3 12.9 .4-9.3 .3 6.3 .4-2.2 .3-7.5 .4 7.9 .3 1.2 .4-13.5 .3 11.5 .4 17.8 .3-24.7 .4 5.7 .3-12.8 .4 11.1 .3-6.9 .4 8.4 .3-5.5 .4-7.4 .3 14.2 .4-8.6 .3-5.3 .4 6.6 .3-6.9 .4 8.4 .3-3.2 .4-2.2 .3 6.4 .4-12.7 .3 14.1 .4-19.2 .3 22.7 .4-9.3 .3-3.1 .4-3.3 .3 7.9 .4-4.8 .3 .1 .4 8 .3-8.9 .4 1.6 .3 4.6 .4 8.3 .3-11.3 .4 2.3 .3-.4 .4 4.8 .3 5.1 .4-15.1 .3 5.5 .4 .9 .3 4.4 .4 6.1 .3-9.3 .4 1.8 .3 6.2 .4-14.7 .3 3.3 .4 2.4 .3 3.2 .4 1.8 .3-4.4 .4 14.8 .3-15.3 .4 3.6 .3 8.5 .4-1.6 .3-4.7 .4 2.9 .3 3.1 .4-4.9 .3 4.5 .4-9.6 .3 6.6 .4-10.6 .3 5.2 .4-1.3 .3 15.6 .4-10.6 .3 5.2 .4-7.4 .3 4.9 .4-.1 .3-3.6 .4 11 .3-16.1 .4 14.7 .3 13.1 .4-22.2 .3 5.5 .4-10.1 .3 9.8 .4-10.9 .3 15.2 .4-7.1 .3-8.7 .4 3.6 .3-1.8 .4 8.4 .3 10.4 .4-11.1 .3-4.9 .4 2.2 .3 6.2 .4-16.3 .3 19.4 .4 .4 .3-19.9 .4 23.4 .3-18 .4 9.1 .3 9 .4-18 .3-7.1 .4 10.5 .3 .3 .4 6.1 .3-2.4 .4 .2 .3 .2 .4 2 .3-4.3 .4 7.7 .3-2.1 .4-6.4 .3 18.3 .4-19.8 .3 12.9 .4-9.9 .3 5.7 .4-.5 .3 .7 .4 2.1 .3-16 .4 22.3 .3-17.3 .4-9.3 .3-5 .4 22.3 .3-6 .4-12.1 .3 3.5 .4 2.1 .3-9.4 .4-4.8 .3 1 .4 4.1 .3-6.7 .4-10.2 .3 9 .4-19.7 .3 2.5 .4 9 .3-10.2 .4-3.8 .3-4.5 .4 2.2 .3-10.8 .4-16 .3 10.4 .4-23.2 .3 4.9 .4 21.8 .3-5.1 .4-11.3 .3 .9 .4-.6 .3 4.3 .4-15.2 .3-.1 .4 3.5 .3 7.3 .4 3.2 .3-1.8 .4 9.8 .3-9.1 .4 8.5 .3-1.6 .4 .4 .3 16.8 .4-5.7 .3 .1 .4 11.3 .3-2.2 .4 14.9 .3 6.2 .4 5.7 .3-8.9 .4 10.4 .3 17.4 .4-8.7 .3 14.1 .4 6.2 .3-14.2 .4 19.8 .3-1 .4 2.7 .3 7.2 .4-6 .3-.5 .4 5.3 .3-4.2 .4 7.4 .3-14.3 .4 26.1 .3-12.6 .4 8.8 .3-.2 .4-4.4 .3-3 .4-3.4 .3-14 .4 4 .3 8.2 .4-17.3 .3-3.3 .4 17.4 .3-8.9 .4-.7 .3-13.2 .4-1.2 .3 .1 .4-4.3 .3-7.9 .4-12.6 .3 1 .4-8.7 .3 16.1 .4-16.4 .3-2.3 .4-.8 .3-5.4 .4-.4 .3-11.2 .4-9.5 .3 17.4 .4-19.6 .3-.4 .4-3.2 .3 .5 .4 2.5 .3 3.5 .4-12.7 .3 7.4 .4-7.3 .3 10.9 .4-16.8 .3 7.4 .4 2.8 .3-14.4 .4 8.2 .3-.9 .4-7.2 .3 4.4 .4 8.4 .3-4 .4-3.6 .3 2 .4 4.9 .3 6 .4-2.4 .3 .3 .4 6 .3-19.1 .4 1.4 .3-4.7 .4 20.5 .3-19.2 .4 15.1 .3 5.9 .4-12.8 .3 5.6 .4 3.4 .3 7.2 .4-18.3 .3 17.4 .4 3.3 .3-2.7 .4 1 .3 7.8 .4-5.7 .3-.7 .4-1.1 .3 7.2 .4-6 .3 7.6 .4-3.1 .3 6.8 .4-11.8 .3 5.9 .4 2 .3 .8 .4 4.9 .3-4.3 .4 3.6 .3 7 .4-6.7 .3-11.7 .4-2 .3 13.6 .4-3.6 .3 7.8 .4 .5 .3 12.9 .4 2.8 .3-11.2 .4 12.4 .3-.2 .4-2.9 .3 15.9 .4-1.5 .3 7.1 .4 16 .3-4.1 .4 1.7 .3-6.4 .4-1.7 .3 18.4 .4-6.6 .3 5.3 .4 .5 .3 6.2 .4 17.7 .3-17 .4 .3 .3 3.2 .4 .6 .3-9.2 .4-3.5 .3 7.6 .4 2.5 .3-3.5 .4-1.2 .3 .5 .4 3.5 .3 1.9 .4-9.4 .3 6.9 .4 5.8 .3-2.9 .4-7.6 .3 6.4 .4 2.3 .3 5 .4-14.9 .3 14.7 .4-7.1 .3 4.3 .4 3.1 .3-9.6 .4 .5 .3 4.5 .4 5.4 .3-7.9 .4-5.3 .3 4.6 .4 7 .3 5 .4-10.4 .3 1.3 .4 1 .3 .4 .4-5 .3 3.3 .4 4.3 .3-.6 .4-.4 .3-6.3 .4 2.9 .3-1.3 .4 10.8 .3 2.3 .4-6.3 .3 6.7 .4-12.1 .3-.2 .4-6.6 .3 9.4 .4-4.6 .3 3.2 .4 2.2 .3-4.8 .4-5.7 .3 6.5 .4-.5 .3 .4 .4 3.8 .3-5.8 .4-.6 .3 12.3 .4-4.4 .3-7.5 .4-5.5 .3 2.8 .4 4.9 .3 2.7 .4 9.5 .3-16.8 .4 2.2 .3-3.4 .4 2.5 .3-3.1 .4-4.5 .3 12.8 .4-5.7 .3 7.4 .4-10.9 .3 5 .4 2.7 .3-15.6 .4 3.7 .3 13.2 .4-3.8 .3-11.9 .4 7.1 .3-1.7 .4 3.7 .3 12.9 .4-13 .3 16.5 .4-14 .3-2.8 .4 14.6 .3-3.6 .4 2.9 .3 3.7 .4-5.2 .3 1.2 .4-18.1 .3 5.8 .4 8.1 .3-1.2 .4 3.4 .3-7.2 .4 10.2 .3 5.8 .4-8.7 .3 1.8 .4-1.8 .3 2.9 .4-4.2 .3-4.3 .4 4.6 .3-.3 .4-10 .3 11.2 .4-1 .3 1.3 .4-4.5 .3 6.7 .4 1.1 .3-8.1 .4 6.6 .3 3.1 .4 0 .3-10.2 .4-.4 .3 6.7 .4-6.5 .3 21.9 .4-20.8 .3-.1 .4 8.9 .3-7.2 .4-11.8 .3 13.5 .4-5.4 .3 2.7 .4-6.9 .3 4.2 .4 4.5 .3 .3 .4-6.6 .3 2.3 .4-1 .3 6 .4-2 .3-7 .4 11.6 .3-8.5 .4 6.6 .3-8.2 .4 7.4 .3-2.8 .4 1 .3 2.6 .4-.6 .3-1.8 .4-.2 .3-9 .4 7.3 .3-13.3 .4-.5 .3 11.9 .4 .4 .3 10.5 .4-5.3 .3 2.6 .4-8.9 .3 4.5 .4 4.4 .3-4.1 .4-1.2 .3-1.7 .4-6.5 .3 0 .4-3.4 .3 11.3 .4-4.4 .3-2.6 .4 6.2 .3-5.9 .4 10 .3 5.2 .4-9.2 .3-7.2 .4-5.2 .3 21.7 .4-9.8 .3-10.3 .4 13.9 .3-17.2 .4 7.5 .3 1.1 .4-.9 .3-8.6 .4 25.5 .3-17.6 .4 4.8 .3-2.3 .4-10.3 .3 6.4 .4 4.6 .3 4.3 .4-8.1 .3 5.4 .4-5.6 .3 5.7 .4-19.3 .3 19.1 .4-7.8 .3 .1 .4-14.2 .3 10.9 .4 10.4 .3 10.5 .4-19 .3 .1 .4 7.1 .3-1.4 .4-5.6 .3 2.5 .4-1.5 .3 6.1 .4 1 .3 5.9 .4-5.4 .3-1.7 .4-3.3 .3 4.7 .4-12.1 .3 19.5 .4-11.9 .3 7 .4-14 .3 11.2 .4-4.9 .3-4.7 .4-4 .3-2.3 .4 15.8 .3-4.6 .4-7.9 .3-.5 .4-6.7 .3-8 .4-.7 .3 6.5 .4 1.8 .3-7.3 .4 11.8 .3-2.2 .4-2.6 .3-12.5 .4 9.2 .3 .7 .4-8.1 .3-6.3 .4 25.4 .3-8.6 .4-6.8 .3 12.8 .4-1.9 .3-2.9 .4-.2 .3 4.7 .4 5.5 .3-7.5 .4-.7 .3 6.4 .4-20.2 .3 19.5 .4-1.9 .3 4 .4 .5 .3 4.8 .4 0 .3 1.3 .4 .3 .3 5.2 .4-4.6 .3 10.9 .4-15.2 .3 13.4 .4 3 .3-9.3 .4 6.8 .3 12.6 .4-7.7 .3-3.2 .4-13 .3 20.9 .4-1.5 .3 3.2 .4 9.1 .3-12.9 .4 .8 .3-5.1 .4 3.9 .3 .2 .4 5 .3-1.3 .4-8.3 .3 1.8 .4 11.7 .3-14.7 .4 10.7 .3 5.5 .4-6.1 .3-2.5 .4 7 .3-6.4 .4-2.3 .3-1.2 .4 8.5 .3-2.8 .4 5.3 .3-11.8 .4 .1 .3-.7 .4 4.5 .3-6.2 .4 10.2 .3-3.7 .4-8.3 .3-12.5 .4 7.2 .3 20.6 .4-9.5 .3 1.3 .4-3.6 .3 5.2 .4-14.6 .3-.5 .4 2.3 .3 10.7 .4 4 .3-1.4 .4-3.8 .3-7.3 .4 13.1 .3-6.8 .4 1.7 .3-.4 .4-2.5 .3-1.6 .4 .9 .3-4.5 .4 9.7 .3-2.6 .4 7.5 .3-17.8 .4 18.8 .3-7.9 .4-.6 .3-4.2 .4-.2 .3-4.3 .4 14.9 .3-7.1 .4 5.7 .3 .6 .4-8.4 .3 1.5 .4-.8 .3 8.5 .4-5.7 .3 .1 .4 3.4 .3-5.2 .4 13.3 .3-18.9 .4 13.7 .3 .8 .4-16.1 .3 12.5 .4-3.8 .3 6.3 .4-15.9 .3 9 .4-7.8 .3 4 .4 10.9 .3-9.9 .4-13.5 .3 5.3 .4 1.5 .3 13.5 .4-10.9 .3-5.5 .4 16.7 .3-5.6 .4 .5 .3-7.3 .4 13.9 .3-9.9 .4-11.8 .3 5.2 .4 1.7 .3 4.2 .4 5.7 .3-9.5 .4 .7 .3 17.6 .4-13.5 .3-4 .4 3.4 .3-8.7 .4 10.4 .3 1.8 .4-10.6 .3 9.1 .4-9 .3 2.7 .4-7.3 .3-1.3 .4-5.2 .3 9.9 .4-4 .3-.7 .4-6.4 .3-1.1 .4 2.5 .3 6 .4-1.9 .3-7.1 .4 5.3 .3 8.3 .4-11.2 .3 11.2 .4-9.5 .3 7.6 .4-16.7 .3 9.9 .4-15.7 .3 8.2 .4-4.5 .3-11.3 .4-1.1 .3 19.2 .4-4.9 .3 4.2 .4-7.7 .3-20.4 .4 19.8 .3-6.7 .4-.5 .3-.4 .4-2.9 .3-2 .4 13 .3-5.6 .4-6.1 .3 2.3 .4 9.7 .3-2.9 .4-.4 .3-8.1 .4 5.9 .3-3.6 .4-4.1 .3 21.3 .4-9.6 .3 .3 .4-2.6 .3 11.6 .4 9.3 .3-8.9 .4 2.7 .3-13.2 .4 9.5 .3 .8 .4 8.5 .3-8.8 .4-5.4 .3 6 .4-1.8 .3 12.4 .4-4.4 .3-1.5 .4-.5 .3 4.7 .4-7.9 .3-2.2 .4-5.5 .3 19.8 .4-3.7 .3 1.3 .4-3.2 .3 10.7 .4-16.4 .3 13.9 .4-12.8 .3 2.7 .4-4.7 .3 8.4 .4-2.2 .3 4.6 .4-6.2 .3-4.9 .4 12.5 .3 4.7 .4-3.4 .3-4.8 .4 3.1 .3-13.1 .4 8.7 .3 9.6 .4-4.3 .3-8.1 .4 10.9 .3-6 .4 5.5 .3-13.3 .4 5.7 .3 5.6 .4 0 .3 1.7 .4-3.4 .3-1 .4 4.4 .3 2.6 .4-14.8 .3 7.6 .4 .9 .3 2.5 .4 5.5 .3-14.6 .4 11.9 .3-14.1 .4 6.3 .3 1.7 .4 1.7 .3-2 .4 .7 .3 1.2 .4 .5 .3-9.8 .4 2.8 .3 6.2 .4 6.1 .3 6.1 .4 8.6 .3-17.1 .4-5.6 .3 6.2 .4 3.2 .3-3.4 .4-7.4 .3 6.1 .4 .4 .3-8.5 .4 1.3 .3 15.2 .4-21.4 .3 15.1 .4-2.6 .3 10.4 .4-4.8 .3-9.2 .4 13.4 .3-11.4 .4 16.1 .3-2 .4-10.9 .3 5.5 .4-3.7 .3-6.7 .4 12.4 .3-3.9 .4 2.7 .3 1.4 .4 2.3 .3-2.3 .4-7 .3 1.2 .4 2.1 .3-3.3 .4-.7 .3 12.7 .4-8.9 .3 8.5 .4-17 .3 4 .4-2.7 .3 0 .4 .3 .3 .7 .4-2.3 .3 13.6 .4-7.4 .3-9.2 .4 .9 .3 7.7 .4-1.6 .3-7.6 .4 9.3 .3-15.1 .4 5.6 .3 13.4 .4-27.4 .3 14.7 .4 7.1 .3-7.5 .4-6.7 .3 1.4 .4-7.8 .3 4.4 .4 8.3 .3-4.3 .4 3.1 .3-1.2 .4 2.4 .3-12.5 .4 8.1 .3-.6 .4-.2 .3-3.9 .4-8.5 .3 17.3 .4 .8 .3 16.7 .4-18 .3 5.4 .4-6.9 .3-6.3 .4 5.1 .3-10.6 .4 8.5 .3-2.5 .4-6.2 .3 17.8 .4-4.8 .3-4.4 .4 2 .3 4.9 .4-11.4 .3-7.9 .4 2.2 .3 10 .4-3.2 .3-15.6 .4 21.8 .3-7.1 .4 8.4 .3-3.3 .4-10 .3 3 .4-5.5 .3-.9 .4 3.1 .3 4.7 .4 5.1 .3-14.4 .4 9.7 .3-4.3 .4-.8 .3 9.2 .4-8.5 .3 11.6 .4-10 .3-2.9 .4 11.3 .3-13.1 .4 2.5 .3 7 .4 1.9 .3-.9 .4-9.9 .3 4.7 .4 12.4 .3 .9 .4-8.9 .3 9.2 .4 .8 .3 6.3 .4-9.8 .3 14.9 .4-9.8 .3 12.1 .4-2 .3-10.9 .4 5.6 .3 4.9 .4 5.8 .3-13.9 .4 6.8 .3 8.2 .4 .3 .3-8.4 .4 2.2 .3 9.5 .4-7.9 .3 7.9 .4 4.3 .3-5.6 .4-16.9 .3 24.2 .4-.1 .3 1.6 .4-3.4 .3-16 .4 19.5 .3-6.7 .4 3.8 .3-6.9 .4-.5 .3 0 .4 11.6 .3-8.3 .4-3 .3-6.7 .4 11 .3-2.9 .4 1 .3 5.2 .4-1.6 .3-4.5 .4 1.3 .3-.4 .4 3.6 .3-.1 .4-3.5 .3-6.2 .4 10.7 .3 .4 .4-12.4 .3 9.2 .4-4.9 .3-11.3 .4 13.5 .3 6.3 .4-10.6 .3 .2 .4 10.9 .3-13.4 .4 1.1 .3 3.9 .4 5.9 .3 .1 .4-7.3 .3 1.3 .4 2.1 .3-3.3 .4-3.4 .3-1.8 .4 11 .3-6.2 .4 19 .3-14.4 .4-9 .3 4.4 .4 1.8 .3 0 .4-.1 .3-.3 .4-4 .3 6.7 .4 7.2 .3-16.9 .4 0 .3 6.5 .4 3.1 .3-3.1 .4 2.2 .3-8.3 .4-1.5 .3 5.2 .4-.2 .3 5.9 .4-1.1 .3-21.6 .4 16 .3-9.4 .4-9.4 .3 15.3 .4-3.8 .3-1.5 .4-6.3 .3 1.1 .4 4.4 .3-8.7 .4 8.1 .3 .8 .4-2.3 .3 2.3 .4-2.9 .3-7.5 .4 .2 .3 6.7 .4 4.6 .3-5.7 .4-4.7 .3 3.6 .4-13 .3 4.5 .4 3.3 .3 1.4 .4-2.2 .3-.1 .4-6.2 .3 3.5 .4 4.7 .3-13.5 .4 3.6 .3 4.9 .4 11.1 .3-5.4 .4 5.1 .3-1.8 .4-11.6 .3 1.9 .4-7.3 .3 14.3 .4-3.2 .3-1.1 .4 1.2 .3-.5 .4-.8 .3 1.1 .4 6.7 .3-11.8 .4-.9 .3 7.3 .4 8.1 .3-5.1 .4-2 .3 7.3 .4-3.8 .3-11.9 .4 6.4 .3-6.1 .4 12.5 .3-.7 .4 6.3 .3 11.3 .4-16.1 .3 4.6 .4-1.5 .3-14.4 .4 11.4 .3 3.5 .4 7.1 .3-6.1 .4-2 .3 12.7 .4-3.2 .3-4.4 .4 1.8 .3 3.7 .4 7.9 .3 4.7 .4-16.3 .3 20.1 .4-9.8 .3 2.8 .4 4.7 .3-11.2 .4 12 .3-13.5 .4 5.3 .3-2.4 .4 15.9 .3-.2 .4-5.5 .3-1.5 .4-6.6 .3 14.3 .4-2.1 .3-3.1 .4-6.3 .3-1.5 .4 1.7 .3 8.9 .4-14.2 .3 6.7 .4 9.5 .3-4.7 .4 5.4 .3-8.2 .4 .1 .3 6 .4-4.6 .3-1.9 .4-5.3 .3-6 .4 18.6 .3-11.9 .4-2 .3 10.1 .4-10.9 .3-2.9 .4 4.9 .3 3.2 .4 2.1 .3 1.6 .4 2.9 .3-6.8 .4 3 .3-2.9 .4-3.3 .3 6.6 .4-.3 .3 9.4 .4-7.8 .3-8.1 .4 8.1 .3-5.3 .4 11.5 .3-20.5 .4 6.5 .3 .1 .4 4.9 .3-1.6 .4-9 .3-1.7 .4 12.8 .3 8 .4-.1 .3-11.5 .4 5.4 .3-8.2 .4-3.6 .3 16.6 .4-1.1 .3-8.5 .4-.2 .3 8 .4-3.7 .3-4 .4 3.8 .3-1.7 .4-2.5 .3-1.9 .4 10.2 .3-8.6 .4-4.4 .3 18.6 .4-3.5 .3-4.4 .4-3.7 .3 1.7 .4-10.1 .3 9.1 .4 1.8 .3-2.8 .4 4 .3-7.3 .4 6 .3-10.8 .4 9.7 .3-3.5 .4-4.4 .3 5.9 .4 2.7 .3-3.7 .4 9.5 .3-11.9 .4 12.2 .3-1.2 .4-8.1 .3 12.7 .4-17.2 .3 11.8 .4-2.7 .3 4.4 .4-14.3 .3 2.4 .4 2.3 .3 5.4 .4 .5 .3-.3 .4-1.6 .3-2.7 .4-4 .3 5.9 .4 6 .3 3.2 .4-9.3 .3 9.8 .4-14.8 .3 13.2 .4-11.4 .3 8.3 .4-7.3 .3 .1 .4 2.7 .3 12.2 .4-12.7 .3 8 .4-2.7 .3 1 .4 .2 .3 2 .4-11.1 .3 7.7 .4 2 .3-5.6 .4 5.9 .3-8.4 .4 10.9 .3-8.7 .4 2.7 .3 6.7 .4 1.9 .3-10 .4-.3 .3 10.1 .4-23.7 .3 26.1 .4-.2 .3-14.4 .4 14 .3-5 .4 .7 .3-17 .4 11.3 .3 1.9 .4-1.2 .3 .2 .4 .7 .3-15.8 .4 16.6 .3-5.1 .4 5.9 .3-2.4 .4 3.1 .3 1.9 .4 9.3 .3-15.9 .4 15.5 .3-11.8 .4-3.9 .3-3.3 .4 14.3 .3-14.6 .4 15.1 .3-3.4 .4-5.6 .3-.5 .4 7.2 .3-1.9 .4 3.7 .3-4.5 .4-3.1 .3 6.6 .4-10.6 .3 12.7 .4-4.8 .3-7.1 .4 .7 .3 4.3 .4-9.1 .3 19.9 .4-2.5 .3-12.7 .4 6 .3 11.2 .4-8.1 .3-8.8 .4-7.2 .3 3.2 .4 17.4 .3-5.4 .4-10.2 .3 12.5 .4-6.7 .3-2 .4 .9 .3 .2 .4 13.2 .3-16.3 .4 3.3 .3 10.8 .4 1 .3-15.5 .4 18.8 .3-6 .4-16.2 .3 20.5 .4-20.6 .3 13.4 .4-11.4 .3-4 .4 16.3 .3-1.4 .4-4.5 .3 1.6 .4-1.9 .3-1 .4-5.1 .3 10.2 .4-3.5 .3-1.8 .4-2.1 .3 1.8 .4-7.8 .3 7.5 .4-4.3 .3 14.1 .4-14 .3 3 .4 2.9 .3 4.8 .4-2.1 .3-2.9 .4 13.3 .3-13.6 .4 2 .3 15 .4-22.7 .3 11.6 .4-3.3 .3-11.1 .4 4.3 .3 9 .4-14.3 .3 7.8 .4 6.9 .3-7.3 .4 3.1 .3-6 .4 .3 .3 0 .4 1.5 .3 6.1 .4-3.5 .3 11.8 .4-9 .3-1.7 .4 12.2 .3-14.8 .4-4.4 .3 5.9 .4-7.8 .3 10 .4 5.2 .3-4.6 .4-6.6 .3 1.6 .4 3.9 .3 4.3 .4-10 .3-.1 .4 9.3 .3-5.5 .4 .7 .3 .8 .4-7.9 .3 3.9 .4 7.5 .3-7.7 .4-.3 .3 3.1 .4 .6 .3 13.5 .4-20.9 .3 6 .4 11.7 .3-12.3 .4 2.1 .3-11.4 .4 15.2 .3-.6 .4-.3 .3-6.2 .4 3.5 .3-2.7 .4 5.7 .3-5.3 .4 5 .3-13.2 .4 6.3 .3-15.7 .4 16.9 .3 5.8 .4-6.4 .3 16.3 .4-20.9 .3 4.1 .4-6.5 .3 5.6 .4 .2 .3-6.2 .4 3.1 .3 18.8 .4-14.3 .3 7.4 .4-13.6 .3 7.2 .4 4.1 .3-4.4 .4-2.1 .3 2.1 .4 1.4 .3 5 .4 2.4 .3-15.8 .4-4.6 .3 11.7 .4 1.3 .3 4.5 .4 2.2 .3-10.8 .4 17.1 .3-11.3 .4-12.6 .3 17.1 .4-4.3 .3 .1 .4-11.7 .3 8.1 .4 2.9 .3-2.4 .4 5.8 .3 3.6 .4 1.7 .3-1.7 .4-8.7 .3 11.7 .4-9.1 .3 3.7 .4-6.8 .3-7.2 .4-5.4 .3 15.4 .4-5.4 .3 4.2 .4 8.5 .3-17.9 .4-1.5 .3 12.7 .4 .7 .3-4 .4-1.5 .3-6.7 .4 9.5 .3-4.1 .4 7.4 .3 3.3 .4-9.4 .3 6.1 .4-1.4 .3 3.2 .4 5.3 .3-5.5 .4 .4 .3 .5 .4-7.6 .3 2.7 .4 2.2 .3 5.6 .4 .4 .3 6.2 .4-24.4 .3 10.1 .4-10.5 .3 7.5 .4-6.9 .3 17.7 .4-2.5 .3-11.4 .4 8.9 .3 2.6 .4 6.4 .3-5.7 .4-4.3 .3-1.3 .4 4.6 .3-2 .4-4.8 .3-8.4 .4 18.1 .3-11 .4 2.9 .3 6.7 .4-5.2 .3 7.5 .4-14.1 .3 11.9 .4-13 .3-1.1 .4 3 .3 7.3 .4-4.9 .3-4.3 .4 16.2 .3-13.5 .4 5.1 .3 2.7 .4-4.5 .3 5.3 .4 1.7 .3-4.4 .4 7.2 .3-10.2 .4-6.1 .3 11.2 .4-7.2 .3 8.5 .4-3 .3-2.2 .4 6.6 .3-.2 .4-21.8 .3 16.6 .4 3 .3 2.2 .4-6.4 .3-3.7 .4 8 .3 3.6 .4-17.1 .3 3.6 .4 5.8 .3-12.5 .4 12.5 .3 9 .4-11.7 .3 7.6 .4-6.4 .3 8.3 .4 1.5 .3 4.1 .4-7.6 .3 6.2 .4-4 .3-5.4 .4 12.3 .3-13 .4 4.9 .3 14.4 .4-9.9 .3-10.5 .4 7.1 .3-5.3 .4 2.7 .3-8.5 .4 10.9 .3-11.1 .4 12.2 .3 .1 .4 3 .3 8.8 .4-24.4 .3 3 .4 1.3 .3 2.8 .4 9.1 .3-7.5 .4-1.5 .3-3.4 .4 3.2 .3 1.1 .4 2 .3-8.4 .4 8.4 .3 3.9 .4-1.5 .3-10.1 .4 12.9 .3-.2 .4-3.3 .3-9.7 .4-1.6 .3 9.4 .4-6.8 .3-2.1 .4 13.9 .3 .1 .4-1.8 .3 4.1 .4-2.7 .3-13.1 .4 14.4 .3-6.5 .4 1.9 .3 7 .4-7.2 .3 7 .4-9.6 .3-2.9 .4-2.1 .3 3.4 .4-9.8 .3 10.1 .4-.5 .3-2.7 .4-10.8 .3 .5 .4 17.8 .3-10.6 .4 14.6 .3-13.2 .4 6.6 .3-11.4 .4 4.9 .3 2.6 .4 4.9 .3 6.9 .4-4.7 .3-15.3 .4 9.1 .3-1.2 .4-3.1 .3 7.6 .4 6.2 .3-12.9 .4 9.8 .3 1.6 .4-15.6 .3 17.8 .4-.6 .3-8.9 .4 8.8 .3-9.3 .4 9.2 .3-6.9 .4-9.6 .3 7 .4-2.9 .3-2.1 .4-4.3 .3 2.3 .4-3 .3 14.9 .4-19.7 .3 12.8 .4-4.5 .3-4.1 .4 12.3 .3-9.7 .4 12.6 .3-8.9 .4 3.2 .3-3.1 .4 4.9 .3 1.7 .4-8.9 .3 2.7 .4 11 .3-16.6 .4 16.7 .3-13.9 .4-1.2 .3-7.2 .4 5.2 .3-5.8 .4 7.3 .3 7.9 .4-4.9 .3-3.5 .4-2.8 .3 2 .4-4.9 .3 1 .4 20.2 .3-10.9 .4-10.3 .3 12.8 .4 5.1 .3-13.6 .4 3.3 .3-11.3 .4 1.7 .3 18.6 .4 12.8 .3-26.4 .4-5.7 .3 19.1 .4-2.4 .3-3.8 .4 6.2 .3-11.5 .4 3.7 .3 3.2 .4-7.1 .3 4.9 .4-4.7 .3 4.3 .4-2 .3-13.6 .4 13 .3-9.7 .4 3.5 .3-5.2 .4 15.5 .3-7.3 .4-.5 .3 10.2 .4-3.5 .3-6 .4-11.9 .3 17.2 .4-5.9 .3-.8 .4 6.8 .3-8.7 .4 3.4 .3 6 .4-2.1 .3-7.6 .4 12.9 .3-2 .4 4.5 .3-12.3 .4 1.5 .3 5.2 .4-4 .3-2 .4-1.6 .3-1.4 .4-2.3 .3 0 .4 6.5 .3-4.6 .4-7.1 .3 9.1 .4 10 .3-2 .4-21.3 .3 7.2 .4 10.1 .3-4.5 .4-.2 .3-1.3 .4 1 .3-6.8 .4 13.7 .3-14.1 .4 5.9 .3 10.8 .4-2.6 .3-6.6 .4 .3 .3-3.4 .4 .9 .3 1.9 .4 10.2 .3-10.9 .4 6.6 .3-.6 .4 .1 .3-4 .4 6.7 .3-2.8 .4-.7 .3-3.3 .4-10.2 .3 18.3 .4 .5 .3-7.6 .4 2.3 .3 3.2 .4-7.6 .3 10.8 .4 2.6 .3-1.2 .4 .8 .3-17.4 .4 15.4 .3-5.7 .4 10 .3-.1 .4-1.2 .3-5.4 .4 18.3 .3-17.5 .4-9.1 .3 16 .4-14.8 .3 21.3 .4-5.4 .3 2.3 .4-1.5 .3-3.7 .4-10.5 .3 4.8 .4 7.5 .3-4.5 .4 3.9 .3-6.3 .4-.4 .3 7 .4 3.1 .3-4.3 .4-5.9 .3-4 .4 23.3 .3-19.5 .4 1.9 .3 1.2 .4 10.4 .3-10 .4 8.4 .3-1.3 .4-8.7 .3 8.3 .4-8.3 .3 6.9 .4 5.9 .3-5.9 .4-3.9 .3 3.3 .4 1.8 .3 3.5 .4-16.2 .3 3.1 .4 14.8 .3-3.5 .4 .7 .3 1.1 .4-2.6 .3-1.9 .4 3.3 .3 3.3 .4-2.2 .3-2.2 .4-6.8 .3 7.8 .4-8.8 .3 2.8 .4 5 .3-.4 .4 5.9 .3-1.5 .4-2.6 .3-5.2 .4 1.7 .3-1.6 .4 12.2 .3-8.1 .4-7.1 .3-1.4 .4 12.9 .3-13.3 .4 7.5 .3-1.4 .4 5.4 .3-12.2 .4 8.1 .3-1.8 .4 3.6 .3 3.3 .4-8 .3-2.2 .4 6.7 .3-14.4 .4 9.8 .3-7.4 .4-1.6 .3-2.5 .4-.6 .3 15.3 .4 .1 .3-5 .4 5.7 .3-6.4 .4-3.5 .3-3.8 .4 11.4 .3 .1 .4 6.6 .3-17 .4 3.1 .3-6.8 .4 15.3 .3-2.9 .4-1.3 .3-3.5 .4-1.5 .3-2.2 .4 8.2 .3-11.5 .4 8.6 .3-4.6 .4-8.8 .3-3.6 .4 3.3 .3 3.8 .4-8.6 .3 11.1 .4 2.3 .3-4.5 .4-14.8 .3-4.9 .4 19.2 .3 3.1 .4-12.6 .3 4.9 .4-5.8 .3-3.1 .4 9.3 .3-12.1 .4 6.3 .3 3 .4-13.9 .3 10 .4-22.4 .3 11.5 .4-8 .3 13.4 .4-18.2 .3-7.7 .4 12.7 .3-26.9 .4 14.6 .3-9.4 .4 11.7 .3-10.9 .4 4.3 .3-7.3 .4-8.3 .3-8.2 .4 23 .3-11.4 .4-10.4 .3 2.7 .4 8.1 .3-14.9 .4 24.1 .3-15.1 .4-.2 .3 11 .4-6.1 .3-7 .4 12.6 .3-2.3 .4 4.9 .3-12.3 .4-.7 .3 11.6 .4-6 .3-10.2 .4 10.5 .3 8.2 .4-7.9 .3 13.2 .4-10.6 .3 3.2 .4-9 .3 5.1 .4 2.7 .3 3.8 .4-3.5 .3 7.8 .4-24.8 .3 12.8 .4-2.1 .3-6.7 .4 5.6 .3-5 .4 6.8 .3-5.4 .4 4.7 .3-9.4 .4 13.1 .3-6.1 .4 8.7 .3-10.9 .4-1.1 .3 5.3 .4-2.6 .3-2.4 .4 7.9 .3 .7 .4-2.4 .3 2.9 .4-2.5 .3 8.2 .4-7.4 .3 21.3 .4-8.4 .3 7.8 .4-11.4 .3 11.9 .4-.9 .3 9.1 .4 1.4 .3-13.7 .4 19.7 .3-14.6 .4 20 .3-6.7 .4-5.5 .3 13.6 .4-2.6 .3-4.9 .4 3.1 .3 9.3 .4-10.1 .3 4.8 .4 18.7 .3-15 .4 8.8 .3 2.1 .4 4.8 .3 1 .4-19.9 .3 14.5 .4 12.1 .3-10.9 .4 18.1 .3-8.4 .4-7.7 .3 12.9 .4 10.3 .3-16.3 .4 7.5 .3-9.3 .4 1.6 .3 4.2 .4 2.3 .3-1.2 .4-1.1 .3 13.6 .4-22.3 .3-5.2 .4 15.1 .3-2.6 .4-10.5 .3 19.8 .4-15.6 .3-4.7 .4 11.4 .3 1.1 .4 10.7 .3-24.9 .4 1.4 .3 6.1 .4-1.3 .3 2.1 .4-4.3 .3-5.6 .4 6.8 .3 7.1 .4 .3 .3-9.4 .4 7.4 .3-1.1 .4-6 .3 .7 .4 2.3 .3 17.2 .4-16.9 .3-6.9 .4 4.4 .3-2.8 .4 10.6 .3-21.3 .4 6.6 .3 12 .4-2.9 .3-2.7 .4 4.2 .3-13.3 .4 10.6 .3-9.8 .4-1.2 .3 11.1 .4-8.5 .3 2.6 .4 6 .3-10.8 .4 10.3 .3 10.2 .4-15.8 .3 7.5 .4-.9 .3-12.7 .4-.4 .3 9 .4-13.3 .3 14.2 .4 1.6 .3 1.6 .4 .2 .3 5.9 .4-10.3 .3 11 .4-4.9 .3 .2 .4-4 .3 7.4 .4-10.6 .3 9.7 .4 2.7 .3-11.1 .4-1.5 .3 1.5 .4 4.9 .3 2.9 .4 3.5 .3 6.8 .4-1.5 .3-8.3 .4-3.9 .3-4.9 .4 13.2 .3-1.7 .4-4.8 .3 1 .4 .6 .3-15.4 .4 16.4 .3 2.7 .4-2.6 .3-5.7 .4 7.4 .3 3 .4 8.7 .3-4.4 .4-2.7 .3-3.8 .4-8 .3 5.9 .4-5.5 .3 8.4 .4 7.7 .3 .2 .4-.7 .3-5.3 .4 6.5 .3-7.8 .4-10.5 .3 13.7 .4-.4 .3-11.4 .4 7.5 .3-12.4 .4 12.3 .3 10.6 .4-12.1 .3 12.3 .4-7.1 .3-6.4 .4-6.8 .3 15.9 .4-.8 .3-13.9 .4 5.3 .3 10.8 .4-12 .3 7.1 .4-15.2 .3 6.3 .4 10.3 .3-12.4 .4-1.8 .3 .1 .4 6.2 .3-7.8 .4 8.8 .3 4.4 .4 6 .3-12.5 .4 12.6 .3-6.9 .4-5.2 .3 4.5 .4 6.2 .3-.4 .4-4.9 .3-5.7 .4 5.7 .3-4.1 .4-.5 .3 .3 .4 9.8 .3-19.5 .4 6.6 .3-7.2 .4 11.8 .3 .8 .4 .9 .3-11.6 .4 1.9 .3 3.9 .4-4.5 .3 0 .4-1.3 .3-.2 .4-3.2 .3 2.9 .4-12.9 .3 6 .4-10.7 .3 11.5 .4-4.8 .3 7.5 .4 4 .3-16.6 .4 2.3 .3 6.5 .4 6.4 .3-4.9 .4-2.7 .3-3.8 .4-3.1 .3 4.6 .4 .1 .3-2.2 .4-3.9 .3-5.8 .4 5.6 .3 3.8 .4-4.2 .3 10.2 .4-10.4 .3 7.9 .4 5 .3 3.7 .4-2.9 .3 6.9 .4-10.7 .3-.4 .4 12.5 .3-11.9 .4 5.3 .3-9.4 .4 18.8 .3-2 .4-8.7 .3-5.7 .4 13.4 .3 .7 .4 6.3 .3 5 .4-9.6 .3-2.3 .4 .5 .3 .3 .4-6.2 .3 3.6 .4 5.8 .3-9.3 .4 2.8 .3 16.7 .4-11.4 .3 10 .4 2.5 .3-6.2 .4 5.8 .3-5.8 .4-3.8 .3 5.4 .4 1 .3 .1 .4-.5 .3-3.1 .4 9.1 .3-8.2 .4-1.6 .3 11.4 .4-15.4 .3 6.1 .4 9.2 .3-9.1 .4 8.4 .3-10.8 .4-1.8 .3 2.1 .4-2.7 .3 1.1 .4-.7 .3 7.7 .4-2.8 .3-4 .4-3.6 .3 24.9 .4-21.8 .3 10 .4-16.5 .3 2.6 .4 12.2 .3-14.9 .4 0 .3 6.3 .4-4.5 .3 2.6 .4 2.6 .3 4.4 .4-4.5 .3 .5 .4 6.2 .3 .2 .4-11.6 .3-9.8 .4 4.9 .3 12.8 .4-10.2 .3-1.8 .4 1.2 .3 12.6 .4-10.1 .3-3.1 .4-2.5 .3-2.8 .4 24.4 .3-18.5 .4 .8 .3-3.3 .4 8.3 .3-13.5 .4-6.1 .3 8.1 .4 5.4 .3 11.8 .4-15.2 .3-5.3 .4 3.6 .3-3.9 .4-.4 .3 5.2 .4 .9 .3-6.5 .4 10.2 .3-8.3 .4 .4 .3-4.9 .4 4.7 .3-.6 .4 .8 .3-10.3 .4 8.3 .3-8.5 .4 3.4 .3 3.2 .4 4 .3-13.3 .4-5 .3 7 .4 6 .3-10.7 .4 16.6 .3-26.8 .4 22.6 .3-1 .4 .8 .3-11.1 .4 15 .3 0 .4 1.6 .3-8.2 .4 1 .3 10.9 .4-4.8 .3-3.4 .4-1.8 .3 8.1 .4-9.5 .3 13.1 .4-1.9 .3-10.1 .4 13.5 .3 5.5 .4-5.3 .3-9.2 .4 5.4 .3 9.9 .4-12.8 .3 6.6 .4 10.5 .3-8.3 .4-1.2 .3 9.6 .4 5.9 .3-6.9 .4-10.2 .3-1 .4 9.4 .3-9.1 .4 11.7 .3 7 .4-22 .3 15.7 .4 3.1 .3-5.5 .4 5.9 .3 .7 .4 3.5 .3 10.4 .4-15.1 .3-7.8 .4-.8 .3-1.4 .4 12.4 .3-2.4 .4 .8 .3-1.7 .4 8.8 .3-3.2 .4-.5 .3-10.8 .4 2.2 .3-6.2 .4 4.1 .3 4.7 .4-8.4 .3 3.7 .4 16.9 .3-14 .4-8.4 .3 1.6 .4 7.3 .3 5.9 .4-5.9 .3 6 .4-3.5 .3-9.1 .4 13.6 .3-9.4 .4 14.8 .3-15.7 .4 2.8 .3-2.6 .4 1.7 .3 4.6 .4-4.1 .3 8.7 .4-4.8 .3 7.3 .4-9.6 .3 7.7 .4-.5 .3-8.6 .4 17 .3-1.5 .4-11.2 .3-4.7 .4 .7 .3-.6 .4 2.9 .3-9 .4 7.5 .3-4.2 .4 14.4 .3-5.7 .4 5.7 .3 4.5 .4-12.1 .3 9.8 .4-10.4 .3 1.6 .4-10.1 .3 6.6 .4 8.5 .3-6 .4-5.5 .3 2.4 .4-4.7 .3 .4 .4-4.9 .3 16.1 .4-.1 .3-7.7 .4-7.8 .3 7 .4 14.2 .3-21.2 .4 5.2 .3 .2 .4 8.1 .3-13.2 .4 9.7 .3-6.9 .4 3 .3-5.5 .4 11 .3-6.5 .4-.6 .3 10.7 .4-4.8"/>
<path d="M179 1297.3l.4-2 .3-1.6 .3-13.3 .4 16.3 .3-15.1 .4 20.7 .3-4.5 .4 1.4 .3 0 .4-3.1 .3-4.9 .4 1.4 .3 10.7 .4-12.3 .3 2.2 .4-2.9 .3 1.2 .4 1.3 .3 3.3 .4-3.2 .3-.3 .4-1.5 .3 4.2 .4-8.4 .3 8.2 .4 7.5 .3-12.2 .4 4.3 .3 16.9 .4-22.5 .3-3.6 .4 7 .3 18.6 .4-4 .3-19.1 .4 10.6 .3-3.3 .4-3.5 .3-8 .4 17.6 .3-11.1 .4 6.9 .3-1.3 .4 10.6 .3-4.1 .4-13.7 .3 5.3 .4 7.7 .3-13.9 .4 5.6 .3 3.6 .4-10.8 .3 2.3 .4-2.8 .3 11.8 .4-4.9 .3 8.8 .4-4.8 .3 2.7 .4-3.8 .3 4.9 .4-5 .3-5.2 .4 12.8 .3-1.2 .4 7.6 .3-14.2 .4-2.5 .3-5.1 .4-14.3 .3 15.1 .4 10.6 .3-8.1 .4-10 .3 18.9 .4-7.1 .3 1.4 .4-.4 .3 1.7 .4 3.6 .3-13 .4 8.9 .3-1.6 .4 9.7 .3-12.8 .4 15.8 .3-6.1 .4 6 .3-13.7 .4 8.9 .3-2.6 .4-11 .3 7.3 .4-1.1 .3-3 .4 1.2 .3-4 .4 5.8 .3 4.7 .4-6.5 .3-4.6 .4 15.4 .3-8.4 .4 2.4 .3-1.6 .4-1.8 .3 6.8 .4-6.7 .3 3.3 .4-8.6 .3-1.2 .4 7.4 .3 13.6 .4-10.2 .3 10.4 .4-8.8 .3 0 .4-6.1 .3 3.4 .4 10.7 .3-3.6 .4-10.7 .3-.4 .4 12 .3-10.9 .4 8.5 .3-10.8 .4 9.1 .3 5.3 .4-4.1 .3-3.4 .4-.6 .3-1.3 .4 .3 .3 7.1 .4-.1 .3-4.4 .4-9.8 .3 4.3 .4 4.9 .3-1.5 .4-8.2 .3 11.9 .4 11.4 .3-22.5 .4 7.6 .3 9.1 .4-12.1 .3 0 .4 3.4 .3 2.3 .4-5.9 .3 8.2 .4-17.1 .3 15.1 .4-1.8 .3-3.1 .4 3.1 .3-2 .4 7.5 .3-10.6 .4 2.4 .3-8 .4-1.8 .3 8.5 .4-7.8 .3 4.1 .4-2.9 .3 4.9 .4 3.5 .3 4.8 .4-17 .3 10.2 .4 6.2 .3 3 .4 .1 .3-16.8 .4 5.4 .3 6.3 .4 2.1 .3-3.9 .4-.1 .3-.2 .4-6 .3 5.4 .4 3.8 .3-6.9 .4 8.9 .3-23.7 .4 14.7 .3 12 .4-5 .3 3.3 .4-7.7 .3-7.9 .4 3.9 .3 12 .4-19.9 .3 5.2 .4-4.6 .3 6.9 .4 .7 .3 5.8 .4-8.6 .3 14.7 .4-6.5 .3-6.9 .4-3.3 .3-3.2 .4 9.3 .3 10.7 .4-12.9 .3-5.4 .4 5.4 .3-2.9 .4-2.6 .3-6.1 .4 10.6 .3 8.8 .4-1.7 .3-1.7 .4-4.9 .3 1.3 .4 3 .3-6.6 .4 1.7 .3-4.2 .4 8.7 .3-12.4 .4 9.2 .3 3.4 .4-3 .3-1 .4-7.2 .3-.8 .4 .6 .3 0 .4-5.1 .3 3.3 .4-1.9 .3-2.6 .4 7 .3-7.3 .4 5.1 .3 6.5 .4 .6 .3-10.6 .4 5.2 .3-5.3 .4 11.9 .3-5.2 .4-3.8 .3-8.3 .4-1.3 .3 4 .4-4.2 .3-2 .4 4.8 .3-12.2 .4-5.2 .3 3.8 .4-2.8 .3 4.4 .4-6.6 .3 2 .4-12.8 .3 18.8 .4-8.4 .3-9.4 .4 5 .3 3.5 .4-4.3 .3-7.4 .4 2.2 .3-1.1 .4-15.5 .3-4.3 .4 2 .3 6.3 .4-.1 .3-10.9 .4 5.1 .3-6 .4-9.4 .3-7 .4-2.4 .3 1.3 .4 4.8 .3-7 .4-17.2 .3-4 .4 7.6 .3-7.5 .4-11.9 .3 5.2 .4-.4 .3-7.8 .4-8.6 .3 2.8 .4-14.7 .3-5.7 .4-6.4 .3 12.3 .4-2.5 .3-16.7 .4-.1 .3-4.7 .4-.9 .3-2.4 .4-6.8 .3-8.5 .4-6.4 .3-6.8 .4-13.3 .3 11.1 .4-8.2 .3 1.3 .4-7.4 .3-12.5 .4-3.9 .3-1.5 .4-8.5 .3-13.2 .4-6.3 .3 .9 .4-8.9 .3-6.5 .4-9.7 .3-1.5 .4-10.7 .3 7.5 .4-24.6 .3-8.3 .4 7.1 .3-17.1 .4-11.1 .3 .3 .4-23.2 .3 9.5 .4-9.4 .3-5.4 .4-13.3 .3 4.2 .4-23.4 .3-19.5 .4-15.3 .3-27 .4-10.9 .3-25.2 .4-14.3 .3-8.4 .4-17.6 .3-13 .4-24.9 .3-4.8 .4-8.1 .3 .9 .4-1.6 .2-1 .1 2.4 .4 4.1 .3 18.2 .4 13.9 .3 22.8 .4 40.3 .3 27.5 .4 31.9 .3 28.4 .4 7.7 .3 20.3 .4 23.8 .3 18.9 .4 20.4 .3 8.3 .4 23.9 .3 24.4 .4 22.1 .3-13.3 .4 22.2 .3-6 .4-1.6 .3 21.6 .4-8.9 .3 4.6 .4 16.4 .3 7.1 .4-.4 .3 .6 .4 1.9 .3 16.2 .4-7.7 .3 11.9 .4 21.6 .3 4.1 .4 10.3 .3 1.9 .4-2.4 .3 16.2 .4-6.7 .3 14.9 .4 1.4 .3-16.5 .4 9.5 .3-8.4 .4-3.7 .3-13.2 .4 8.2 .3 3.6 .4-17.8 .3 4.8 .4-3.8 .3-8 .4 13 .3-9 .4-2.8 .3 2.6 .4-13.2 .3 20.8 .4-24.9 .3-7.1 .4 7.7 .3-4.4 .4-10.9 .3-2.5 .4 7.3 .3-6.1 .4-2.6 .3-1.3 .4-12.7 .3 6.9 .4-11.3 .3 0 .4-13.7 .3 5.8 .4-6.8 .3 8.9 .4-19.5 .3 5.8 .4-9.3 .3 1.5 .4-11.9 .3-5.6 .4-22.9 .3-1.4 .4 6.7 .3-10.7 .4-4.9 .3-13.1 .4-.9 .3-13.7 .4-5.2 .3 .5 .4-4.9 .3-19.8 .4-4.7 .3-6.5 .4-9.8 .3-7.3 .4-12.6 .3 1.3 .4-17.1 0 .5 .3 21.9 .4 12.1 .3 8.9 .4 .4 .3 4 .4 16.7 .3 14 .4 .8 .3 6.1 .4-3 .3 13.9 .4 29.3 .3-9.6 .4 13.9 .3 11.4 .4 12.4 .3 .2 .4 20.2 .3 9.2 .4 6.3 .3 1 .4 6.7 .3-4 .4 20.2 .3-1.7 .4 .2 .3 13 .4 8.3 .3 4.3 .4 6.8 .3 8.3 .4-4.7 .3 9.4 .4 5.6 .3-4.8 .4 20.2 .3-3.1 .4 8.6 .3 5.6 .4-1.3 .3 14.8 .4 9 .3-2.5 .4-14.6 .3 28.6 .4-5.4 .3 .5 .4 3.9 .3-.3 .4 5.6 .3 7.2 .4-8.8 .3 9.2 .4-3.4 .3 3.4 .4 .8 .3 5.3 .4 5.6 .3-4.6 .4 6.7 .3 4.9 .4-15.9 .3 14.6 .4-5 .3 2.1 .4 8.2 .3-5.8 .4-.9 .3 12.5 .4 .1 .3-2.4 .4 15.6 .3-21.1 .4-2.4 .3 9.7 .4-4.1 .3 10.2 .4-4.3 .3 1.3 .4 5 .3-3.7 .4-5 .3 8.4 .4 9.8 .3-1.4 .4 5.4 .3 5.8 .4-4 .3-5 .4-3.5 .3 7.8 .4 7.3 .3-.5 .4-2.3 .3-9.6 .4 8.7 .3 1.3 .4 3.7 .3-14.1 .4 3.9 .3 5.5 .4 .5 .3-3.7 .4 7.1 .3-4.1 .4 8.8 .3-8.8 .4 4.6 .3-12.9 .4 14.1 .3-4.5 .4 8.7 .3-4.6 .4 8.8 .3-9.8 .4-4.7 .3 10.4 .4 2.6 .3-7.2 .4-2.7 .3 12.7 .4 2.1 .3-1.6 .4-3.6 .3-.3 .4 9.9 .3-4.7 .4-9.8 .3-.8 .4 10.3 .3 .9 .4-7.7 .3-.6 .4 10.3 .3-7.3 .4 7 .3-11.1 .4 .9 .3-4 .4 10.1 .3-2 .4-7.2 .3 11.4 .4-4.2 .3 2 .4 9.8 .3-2.3 .4-2.6 .3-4.6 .4-4.8 .3 3.4 .4 1.8 .3 9.9 .4-12.6 .3 2.4 .4 3.4 .3 2.6 .4 4.3 .3 1.7 .4-8.5 .3 12.5 .4-7.2 .3-8.3 .4-.9 .3 3.5 .4 1.2 .3 6.4 .4-9.2 .3 1.5 .4-1.7 .3 6.6 .4-10.2 .3 11.8 .4-7.9 .3 3.3 .4 3.8 .3-.8 .4 14.6 .3-21.8 .4-6.9 .3 4.5 .4 12.6 .3-11.2 .4 12.3 .3-7.4 .4 5.6 .3-13.4 .4 15.1 .3 .7 .4-12.3 .3 13.2 .4 7.7 .3-15.5 .4-5.6 .3 2 .4 1.8 .3 7.6 .4 4.8 .3-13.2 .4 1 .3-6.8 .4 5 .3 5.9 .4-14.5 .3 16 .4 1.3 .3 2 .4-10.4 .3-5.7 .4 7.7 .3-4.3 .4-4.2 .3 6 .4-3.6 .3 19.7 .4-6.8 .3 .9 .4-11.6 .3 14.7 .4-10.2 .3 7.4 .4-10.9 .3 9.8 .4-13.4 .3 8.9 .4-.3 .3-6.5 .4 8.4 .3-3.4 .4 1.1 .3 6.8 .4 3.4 .3-8.6 .4 8.8 .3-1.5 .4-1.4 .3 5.1 .4-18.1 .3 16.8 .4-5.5 .3-4.4 .4 1.4 .3 7.1 .4 1.2 .3-2.7 .4-10.9 .3-1.7 .4 9 .3 3.6 .4-7.6 .3 9.3 .4-1.4 .3-.7 .4-7.2 .3 12 .4-1.5 .3 2.4 .4-5.6 .3-9.6 .4 9.8 .3 3 .4-5.8 .3-5.8 .4 10.1 .3 .6 .4-11 .3 3.2 .4-4.1 .3 10.5 .4-.7 .3 9.3 .4-15.5 .3 13.3 .4-9 .3 3.8 .4-9.5 .3 7.5 .4-3.2 .3 2.6 .4 1.9 .3 1.9 .4 2.1 .3-4.9 .4-5 .3 11.4 .4-5.4 .3-3.9 .4 15.8 .3-10.3 .4 2.7 .3-14.1 .4 6.4 .3 15.6 .4-8.7 .3-.1 .4-7 .3 3.4 .4 4.1 .3-3.9 .4 0 .3-9.6 .4 5.7 .3 2 .4 6 .3-.2 .4-3.1 .3-4.2 .4 .1 .3 5.7 .4-9.4 .3 6.7 .4-.5 .3 .3 .4 11.3 .3-10.6 .4 6 .3 4.3 .4-4.8 .3-4.5 .4-7.3 .3 16.9 .4-16 .3-5.5 .4 18.3 .3-14.8 .4 1.6 .3 2.8 .4-2.8 .3-5.8 .4 14 .3 1.7 .4 1.6 .3-4.6 .4-2.1 .3-.8 .4 10.3 .3-2.2 .4-7.5 .3 4.5 .4-8.8 .3 10 .4-9.3 .3 5.5 .4-.5 .3-14.3 .4 19.7 .3-4.1 .4-4.4 .3 .4 .4 3.6 .3-.3 .4 3.6 .3-1.7 .4 2.7 .3-2.1 .4-9.6 .3 0 .4 11 .3-.4 .4-2.3 .3-7.6 .4 3.6 .3-3.1 .4 11.2 .3-8.6 .4-3.1 .3 3.3 .4 6.5 .3 7.4 .4-12.1 .3 9.5 .4-9.1 .3-1.3 .4-1 .3 9.7 .4-7.4 .3 8.4 .4-7.9 .3 12.6 .4-8.8 .3-1 .4-7.2 .3 14.6 .4-5.8 .3-1.2 .4-.3 .3-3 .4-.1 .3 5.1 .4-6.6 .3 3.9 .4 14.1 .3-13.9 .4-1.8 .3 7.8 .4-10.9 .3 13.9 .4-8.1 .3-6.8 .4 6 .3-3.2 .4 8.2 .3-6.8 .4 7 .3-15.4 .4 8.7 .3 5.9 .4-.3 .3-2.6 .4 4 .3 .2 .4-4.5 .3 1.3 .4 4 .3-4.2 .4-15.9 .3 5.8 .4 5.4 .3 7.8 .4-3.5 .3 5.3 .4 .2 .3-2.7 .4-11.4 .3 13.2 .4-12.8 .3 .4 .4 5 .3-10.7 .4 23 .3 4.1 .4-14.8 .3-1.3 .4-10 .3 15.4 .4-9.5 .3-.7 .4-1.1 .3 7.5 .4-.6 .3 .5 .4-2.8 .3-6.5 .4 18.6 .3-3.7 .4-8.1 .3-4.5 .4 2 .3 9.8 .4-1.6 .3-1.9 .4 4.8 .3-10.8 .4 11.1 .3-7.9 .4-6 .3 8.2 .4-2.9 .3-6.6 .4 14.1 .3-20.7 .4 10.6 .3 .4 .4-7.1 .3 3.9 .4 6.9 .3-14.8 .4-.3 .3 3.8 .4 4.4 .3 3.1 .4-3.7 .3-10.6 .4 12.6 .3-3 .4 1.2 .3-16.4 .4-.9 .3 5.2 .4 .6 .3 1.9 .4-7 .3-.6 .4 8.1 .3-15.6 .4 1 .3 10.2 .4 3.6 .3-3.4 .4 7 .3-8.2 .4 1.7 .3 0 .4-5.2 .3-8.7 .4 5.4 .3-.2 .4-4.6 .3 8.3 .4-7.7 .3-6.3 .4 8 .3-6.5 .4 8.6 .3-18.9 .4 4.9 .3 9.6 .4 1 .3-1.4 .4 7.9 .3-10.7 .4-2 .3 7.4 .4-7.1 .3 3.7 .4 4.7 .3-8.7 .4-.2 .3-3.3 .4 5.4 .3 1 .4 2 .3-2.6 .4 7.4 .3-11.1 .4-.6 .3-2.8 .4 8.7 .3-7 .4-1.8 .3-5.5 .4 7.3 .3 6.2 .4-19.7 .3 9 .4 1.5 .3 1 .4 5.5 .3-2.1 .4 3.4 .3 1.3 .4 6.6 .3-9.8 .4 4.8 .3-2.9 .4 2.7 .3-2.6 .4-4.3 .3 9.3 .4 4.2 .3-11.6 .4 5.5 .3 .2 .4-12 .3 23.8 .4-2.6 .3-1.5 .4-.9 .3-10.6 .4-9.1 .3 14.1 .4 1 .3-1.9 .4-.8 .3 8.5 .4-1.3 .3-5.6 .4-3.7 .3 15.2 .4-9.3 .3-5.2 .4-9.1 .3-2.3 .4-8 .3 13.7 .4 2.2 .3-3.6 .4 .1 .3 .5 .4 2.5 .3-16.1 .4 2.2 .3 11.5 .4-4.5 .3 .4 .4-9.7 .3 13.7 .4-9 .3-2.7 .4-4.1 .3 5.9 .4-.5 .3-2 .4 9.8 .3-2.8 .4-7.4 .3-3.6 .4 .5 .3 4.2 .4-18.6 .3 17.7 .4-3.4 .3 13.4 .4-10.2 .3-3.9 .4 1.2 .3-3.7 .4 0 .3 4.1 .4-11 .3 12.1 .4-9.5 .3 6 .4 .2 .3 8.7 .4 5.5 .3-.5 .4-10.8 .3 1.8 .4 2 .3 1 .4 6 .3-2.3 .4-3.8 .3 11.5 .4-5.9 .3 5.7 .4-10.9 .3 3.8 .4-1.2 .3-.8 .4-7 .3 7.8 .4-9.9 .3 11 .4 8 .3-3.3 .4-4.7 .3-3.3 .4 6.3 .3-10.4 .4-.9 .3-.4 .4 10.1 .3-9.9 .4 11.4 .3 2.6 .4-1.8 .3-4.5 .4 3.3 .3-9.4 .4 8.4 .3 8.7 .4-1.1 .3-17.6 .4 8.6 .3-2.6 .4 6.2 .3-4.8 .4-3.3 .3-4.3 .4 3.6 .3-2.8 .4 .1 .3-2.3 .4-7.5 .3 8.6 .4-.9 .3-2.4 .4-.9 .3 4.6 .4-2.6 .3 1 .4-8 .3-1.5 .4-7 .3-8.8 .4-3.1 .3 7.5 .4-4.6 .3 .1 .4-19.1 .3 9.8 .4-.4 .3-5.2 .4-1.7 .3-11.3 .4 7.5 .3 5.7 .4-16.4 .3 7.5 .4-9.7 .3 2.9 .4 5 .3-10.3 .4-.5 .3-.7 .4-6.2 .3 5.3 .4-21.3 .3 7.5 .4-17.2 .3 5.6 .4 6.6 .3-9.3 .4 2.4 .3 8.1 .4-7 .3 17 .4-23.6 .3 0 .4-16 .3 13.3 .4-3.6 .3 6.2 .4-1.2 .3-2.6 .4-6.3 .3 17.4 .4-7.2 .3-3.1 .4 15.4 .3-11.1 .4 11.1 .3-5.6 .4 13.4 .3-5.3 .4 30 .3-7.5 .4-.9 .3 3 .4 3.6 .3 3.4 .4-1.2 .3-5.8 .4 9.6 .3-7.9 .4 9.3 .3 6.8 .4-6.6 .3 11.3 .4-3.2 .3 25.9 .4-20.8 .3 7.4 .4 2.6 .3-1.9 .4 2 .3-2.5 .4 3.3 .3 1.2 .4 4.8 .3 3.6 .4-6.6 .3 9.4 .4-7.4 .3-4.6 .4 4 .3-.4 .4 3.5 .3 2.7 .4 1.9 .3 6.5 .4-2.3 .3-6.6 .4 6.1 .3-3.3 .4 5.3 .3 3.1 .4-7.7 .3 5.5 .4 3.9 .3-5.6 .4-8.3 .3 6.1 .4-4.3 .3 11.5 .4-4.4 .3 1 .4 8.9 .3-5.8 .4-3.2 .3-12 .4 7 .3-1.5 .4 2.5 .3-6.7 .4 10.5 .3 3.2 .4-10 .3-7 .4 8.7 .3-2.5 .4 6.7 .3-6.7 .4-4.5 .3-8.4 .4 11.8 .3-14.3 .4 6.7 .3 10 .4-5.9 .3-.1 .4-1.9 .3-7.5 .4 5.2 .3 4.2 .4-.4 .3-9.9 .4 5.8 .3 4.2 .4-4.7 .3 6.7 .4-9.6 .3-10.4 .4 8.8 .3 .2 .4 2.3 .3-1.7 .4 5.2 .3-6.4 .4-3.3 .3-5.3 .4 .7 .3 8.1 .4 2.5 .3-10.1 .4-1.9 .3-3.3 .4 1.6 .3-2 .4-4.3 .3 7.2 .4-12.7 .3 6.3 .4-.9 .3 1.9 .4-5.4 .3-8.1 .4 7.2 .3-9.1 .4 6.3 .3-3 .4 18.1 .3-27.6 .4 5.1 .3 13.7 .4-9.1 .3-6.7 .4 13 .3 9.9 .4-10.9 .3 6.2 .4-11.8 .3 5.6 .4 5.9 .3 1.1 .4-3.8 .3 1.7 .4 1.1 .3 1.4 .4 3.9 .3 2.3 .4 8.4 .3-8.5 .4 13.7 .3 9.8 .4-6.9 .3-1.2 .4-.3 .3 4.9 .4-2.1 .3 10.2 .4-.4 .3 6.7 .4-1.2 .3 4.8 .4 5.8 .3-1.4 .4 12.2 .3-7.8 .4-8.8 .3 6.8 .4 1.3 .3-3.3 .4 4.1 .3-.5 .4 4.9 .3-8.1 .4-4.3 .3 3.3 .4-8.4 .3-3.9 .4 9.8 .3 3.5 .4-.6 .3 11.4 .4-13 .3-3.8 .4 22.8 .3-24.8 .4 18.5 .3-4.8 .4-14 .3 21.3 .4-7.3 .3 4.6 .4-.4 .3 1.1 .4 3.7 .3 8 .4-10.8 .3-2.3 .4 6.9 .3-2.2 .4-17.2 .3 18 .4-4.6 .3 1.3 .4-6.7 .3 20.2 .4-7.9 .3-5.1 .4 .6 .3 1.8 .4 .8 .3 5.4 .4-2.2 .3-5.1 .4 1.7 .3 5.2 .4-9.2 .3 3.5 .4 8.2 .3-5.4 .4 8.6 .3-15 .4 4.2 .3-1.9 .4-.1 .3 9.7 .4 2 .3-5.5 .4-1.1 .3 11.4 .4-.8 .3-21.5 .4 11.9 .3-11.3 .4 3 .3 5.3 .4-2.7 .3 10.5 .4-5.9 .3 1.3 .4 1 .3 11 .4-8.3 .3 3.7 .4-2.1 .3 4.2 .4-6.7 .3-.5 .4 7.5 .3-6.9 .4-10.7 .3 1.6 .4 4.5 .3 5.1 .4-7.8 .3 13 .4-6.7 .3-4.3 .4-6 .3 10.9 .4-.8 .3-10.8 .4 14.2 .3-.9 .4 1.1 .3-9.2 .4 5.3 .3-17.9 .4 14.1 .3-5.3 .4 1.5 .3 2.9 .4-7.2 .3 2.7 .4-5.1 .3 .8 .4-2.3 .3 8.3 .4 5 .3-13.5 .4-4 .3 7.7 .4 3.3 .3-1.2 .4-8.8 .3 6.5 .4-5.3 .3 2.1 .4 1.4 .3-2.2 .4 4.9 .3-6 .4 11.5 .3-8.5 .4-7.7 .3 12 .4-1.1 .3-3.8 .4-1.9 .3 1.7 .4 2.6 .3-6.1 .4 4.8 .3-9 .4 5.3 .3-9.6 .4 7 .3 .5 .4-7.4 .3 4.4 .4-13.9 .3 9.4 .4-1.8 .3 4.3 .4-4.7 .3 5.3 .4 4.3 .3-11.4 .4 3.6 .3 4.1 .4-4.6 .3 .3 .4-8 .3 3.1 .4-8.6 .3 10.5 .4-3.1 .3-.4 .4-13.7 .3 16.3 .4 2.5 .3-1.3 .4-4.3 .3 3.1 .4-7.9 .3-4.5 .4 3.6 .3-3.4 .4 14.8 .3-24 .4 16.1 .3-5.9 .4 2.2 .3 7.8 .4-4.1 .3 7.2 .4-6.7 .3 .5 .4 1.8 .3 7 .4-10.7 .3 2.6 .4-.9 .3 1.1 .4-3.6 .3 6.2 .4 5.2 .3 6.5 .4-4.6 .3-5.2 .4 12.5 .3-17.3 .4 13.6 .3-8.9 .4 7 .3-6.1 .4-.1 .3 6.4 .4 14.3 .3-7.3 .4 3.9 .3-6.5 .4 2.8 .3-4 .4 1.7 .3 2.1 .4 10.7 .3-5.8 .4-5.4 .3 3.8 .4-3.4 .3 8.7 .4-1.3 .3 .1 .4 2.8 .3-.7 .4 5.4 .3-12.5 .4 8.7 .3-5.1 .4 6.5 .3-8 .4-6.4 .3 7.2 .4-1 .3-2.4 .4 4.2 .3 8.9 .4-8.3 .3 6 .4 4.1 .3-1.8 .4-3.1 .3 2.8 .4-7.6 .3-4.8 .4-1 .3 14.1 .4 2.6 .3-9.3 .4 2 .3-13.2 .4 17.5 .3-4.6 .4-9.8 .3 13.6 .4 .8 .3 1.5 .4-5.3 .3 2.3 .4-6.3 .3 13.3 .4-9.8 .3 9.3 .4-4 .3-4.2 .4 9 .3-11.1 .4 6.1 .3-1.1 .4-1.4 .3 2 .4 3.2 .3-6.1 .4-.5 .3 1.9 .4-2.1 .3-2.7 .4 7 .3-11.8 .4 9.2 .3-2.5 .4 3.4 .3 1.5 .4-1.5 .3-1.7 .4 7.5 .3-10.8 .4-4.1 .3 5.3 .4 5.2 .3 6.1 .4 1.5 .3-10 .4 4.4 .3 2.5 .4-12.2 .3 11.1 .4-6.2 .3-3.4 .4 3.7 .3 .4 .4-15.5 .3 11.8 .4 .6 .3-5.5 .4 4.8 .3-3.5 .4-2.6 .3 3.7 .4-10.9 .3 13.6 .4 .5 .3-.5 .4 .1 .3-5.8 .4-1 .3-7 .4-.1 .3 5.4 .4 9.3 .3-5.5 .4 7.5 .3-3.5 .4-10.5 .3 2.2 .4-3.1 .3-2.3 .4 9.5 .3 2.2 .4-9.3 .3 11 .4-1.2 .3-8.5 .4 5 .3-7.8 .4 5.5 .3 2.6 .4-13.8 .3 18.8 .4-18.4 .3 10 .4-3.5 .3 7.6 .4-10.3 .3 2 .4 20.5 .3-8.3 .4-5.1 .3-9.3 .4 5.9 .3-11.8 .4 4.7 .3 6.8 .4 1.8 .3-6.8 .4 6 .3 .4 .4-10.8 .3 6.9 .4-2 .3 8.3 .4-15.7 .3 9.6 .4-3.8 .3 12.5 .4-25.3 .3 22.9 .4-11.3 .3 4 .4-12 .3 .8 .4 5.9 .3 1.6 .4-14.9 .3 10.1 .4 1.2 .3 2 .4 5.1 .3-1.9 .4-3.1 .3-5.4 .4-2.1 .3 10.2 .4 8.2 .3-8.2 .4 5.6 .3-11.8 .4 12.3 .3-6.4 .4 2.1 .3 3.5 .4 .8 .3-2.7 .4 1 .3-.1 .4-5.8 .3 2.5 .4 2.1 .3 9.7 .4-16.2 .3 7.7 .4 5.5 .3-1.6 .4-9.1 .3-1.7 .4 4.4 .3 5.1 .4 3.2 .3-5.7 .4 2.1 .3-3.1 .4-2.5 .3 11.8 .4 3.1 .3-11.1 .4-3.9 .3 8.5 .4-12.4 .3 .8 .4 8.5 .3 9.7 .4-12.8 .3 2.5 .4 8.6 .3-15.8 .4-2.3 .3 21.6 .4-6.7 .3-8.2 .4 5.2 .3 2.3 .4-6.9 .3 16.2 .4-24.3 .3 18.9 .4-7.1 .3-1.3 .4 .4 .3-5.2 .4 2.5 .3-1.8 .4-5.5 .3 11.8 .4-11.3 .3 2.1 .4 16.9 .3-14.4 .4 11.9 .3-1.2 .4-6.6 .3 7.9 .4-12.5 .3-1.9 .4 2.4 .3 .6 .4 4.9 .3 8.5 .4-16.4 .3 3.2 .4 1.5 .3 1.6 .4-4.4 .3 8.7 .4-11.5 .3-4.3 .4 14.1 .3-2.7 .4-9.5 .3-6.3 .4 5 .3 2.2 .4 3.7 .3-.6 .4-12.5 .3 1 .4-2.7 .3 .3 .4-4.2 .3-.5 .4 .1 .3 .6 .4-12.4 .3 7.3 .4 5.6 .3-2.7 .4 .4 .3-.8 .4-2.3 .3 2 .4-6.9 .3-7.7 .4 14 .3-5.8 .4-12.5 .3 14.5 .4-.8 .3-12.8 .4 9.7 .3-2.5 .4 3 .3-5 .4 13.8 .3-14.9 .4 0 .3 4.1 .4 2.8 .3-2.5 .4 12.5 .3-14 .4 20.1 .3-21.4 .4 11.5 .3 8.1 .4 3.7 .3-14.6 .4-7.1 .3 4.8 .4 1.5 .3 7.2 .4-9.2 .3 11.4 .4-10.6 .3 10.4 .4 10.5 .3-10.1 .4 2.8 .3-5.4 .4-2.6 .3 5.2 .4 .7 .3-20 .4 12.4 .3 17.2 .4-8.5 .3-2 .4-3.2 .3 .4 .4 1.6 .3-17.8 .4 29.3 .3-7.6 .4-6.6 .3 12.7 .4-8.3 .3 9.2 .4-11.8 .3 8.6 .4-14.5 .3 15 .4-13.8 .3 9 .4 2.5 .3-11.8 .4 10.4 .3-3.3 .4 3.5 .3 5.2 .4-5.6 .3 7.5 .4-12.1 .3-.7 .4 11.4 .3-11.6 .4 8.3 .3-7 .4 4.8 .3 2.8 .4-6.6 .3 .4 .4-4.3 .3 13.4 .4-9.9 .3-.3 .4 5.1 .3-1.4 .4-2.6 .3 6.8 .4-1.3 .3-4.5 .4 1.3 .3 10.4 .4-6.7 .3-3.6 .4 2.6 .3 3.9 .4 8.1 .3-17.9 .4 9.5 .3-5.6 .4 5.2 .3-6.6 .4 .8 .3 0 .4 1.6 .3 4.7 .4 9.6 .3-16.9 .4 1.3 .3 2 .4 11.5 .3-.5 .4-.5 .3-5.3 .4-3.3 .3-7.2 .4 7.2 .3 1.2 .4-4.6 .3-1.3 .4-3.4 .3 9.2 .4-3.3 .3 5.8 .4-9.2 .3 0 .4 10.2 .3-6.6 .4-9.7 .3 4.5 .4-1.8 .3 4.6 .4-10.1 .3 14.8 .4-.2 .3-4.7 .4-.1 .3-.2 .4-2.6 .3 9.1 .4-12.4 .3 19.6 .4-20.3 .3 7.7 .4-7.5 .3 1 .4 3.3 .3-8 .4 11.8 .3-2.2 .4 3.6 .3-.7 .4-9.3 .3 3.5 .4-.4 .3 7.7 .4-7.5 .3-4.4 .4 6.8 .3-4.6 .4 7.3 .3 2.7 .4-2.4 .3-10.5 .4 9.4 .3-10.7 .4 2.7 .3 7.3 .4-4.6 .3 9.2 .4-6.3 .3-4.1 .4 5.1 .3-6.4 .4 6.7 .3-20.9 .4 12 .3-5.2 .4 4.2 .3-2.9 .4 20 .3-14 .4-4.3 .3 5.4 .4-20.1 .3 22.2 .4-20.5 .3 12.6 .4 10.2 .3-18.5 .4 1.1 .3-8.2 .4 1.9 .3 12.1 .4-1 .3-4 .4 4.5 .3-5.2 .4-3.2 .3 2.3 .4-5.2 .3-7.3 .4 11.5 .3 3.3 .4 4 .3-3.9 .4-6.1 .3-3.8 .4 3.8 .3 1.9 .4-2.9 .3-3.3 .4 4.6 .3-16.3 .4 16.7 .3 5.7 .4-18.1 .3 10.3 .4-6.5 .3-2.7 .4 7.8 .3-.9 .4-5.3 .3 10.7 .4-7.8 .3-14.4 .4 19.1 .3-8.9 .4 8.1 .3-15.8 .4-.2 .3 2 .4 4.1 .3 1.7 .4-9.3 .3 23.2 .4-27.3 .3 1.6 .4 12.9 .3-2.2 .4-3.6 .3-8.2 .4-2.9 .3 11 .4-22.3 .3 2.6 .4 2.2 .3-.5 .4 3.6 .3-7.1 .4-.3 .3-.5 .4-6.1 .3 1.5 .4-9.9 .3-.3 .4 3.9 .3-3.8 .4 4 .3-5 .4-.3 .3 2.4 .4-17.5 .3 2.1 .4 2.9 .3 10.9 .4-14.8 .3 11.5 .4-6.3 .3-6.9 .4 .1 .3-2.4 .4-9.5 .3 7.7 .4-9.5 .3-6.2 .4-7 .3 3.4 .4-3.5 .3-1.8 .4 4.9 .3-13.1 .4-10.9 .3-4.3 .4-8.3 .3-3.1 .4-6.7 .3 8.4 .4-23.4 .3 16.6 .4-16.9 .3-9.1 .4-1.7 .3-1.2 .4-6.3 .3-10.1 .4 2.2 .3-20.7 .4-4.7 .3 2.7 .4-18.6 .3-3.9 .4 .8 .3-6.7 .4-7.2 .3-6.7 .4-11.1 .3-5.8 .4-7.4 .3-8.3 .4-1.3 .3-12 .4-1.3 .3-11.2 .4-.9 .3-25.2 .4 19.2 .3-23.1 .4-2.9 .3-7 .4 7.8 .3-25.7 .4 .4 .3-5.7 .4 9.3 .3-11.8 .4-19.5 .3-2.6 .4-3.7 .3-12.2 .4 6.1 .3-13.6 .4-18.8 .3 3.3 .4-7.7 .3-9.5 .4-2.7 .3-3.9 .4-9.1 .3-5.7 .4 2.3 .3-15.8 .3 13.5 .1-12.2 .3 14 .4 3.3 .3 9.5 .4-1.3 .3 11.8 .4-.8 .3 29 .4 6.3 .3 13.5 .4 2.6 .3 15.6 .4 7.4 .3 9.3 .4 .7 .3 13 .4-8 .3 28.9 .4-6.8 .3 19.5 .4 8.2 .3 1 .4-5.8 .3 13.6 .4 7.4 .3 5.3 .4 2.9 .3 3 .4 2.7 .3 5.3 .4 9.3 .3 5.5 .4 5.7 .3 6.7 .4 9.4 .3 3.2 .4 15.9 .3 1.9 .4 13.6 .3-4.1 .4 5.9 .3 7.8 .4 6.6 .3 4.8 .4 9.9 .3-13.9 .4 17.7 .3-7 .4 8.2 .3 8.5 .4-.6 .3 4.6 .4-12.6 .3 6.2 .4-6.4 .3-7.7 .4 3.6 .3-10.9 .4 2.8 .3 4.4 .4-10.5 .3-8 .4-7.1 .3-1.2 .4-5.5 .3 10.6 .4-9 .3-7.5 .4-1.7 .3 5.4 .4-14.7 .3-2.1 .4 9.4 .3-6.3 .4-11.9 .3 8.1 .4-5.3 .3-2.9 .4-2.4 .3-2.1 .4 2.1 .3 2.8 .4-11.1 .3 7.5 .4-12.2 .3 6.6 .4 6.5 .3-4.9 .4-.5 .3 12.1 .4-4 .3-.1 .4 3.1 .3-9.6 .4 7.3 .3 14.3 .4-.2 .3 11.2 .4-9.1 .3 8.9 .4 13.1 .3 6.3 .4-11.1 .3 17.9 .4 4.1 .3 3.7 .4 11.7 .3-1.7 .4 13 .3 5.7 .4-4.4 .3 6 .4-11.5 .3 19.2 .4-.3 .3-7.4 .4 2.6 .3 11.9 .4 15.8 .3-8.7 .4-5 .3 7.6 .4-7.9 .3 11.1 .4 1.6 .3 8 .4 9 .3-6.7 .4 15.1 .3-10.1 .4 3.7 .3-.9 .4-3.3 .3 3.9 .4 3.1 .3 13.3 .4-8 .3-5.8 .4 12 .3 1.9 .4-6.5 .3 10.6 .4 .5 .3-7.1 .4 14.9 .3-12 .4 4.6 .3 10.2 .4-11.6 .3-4.6 .4 12.8 .3 6.1 .4 .5 .3-1.2 .4-3.9 .3 15.8 .4 .4 .3-3 .4 3.2 .3-12 .4 16 .3 5.4 .4-1.8 .3 2 .4-2.5 .3 1.1 .4-12.5 .3 11.2 .4 5.8 .3-5.4 .4-1.9 .3 7.9 .4-1.7 .3 13.4 .4-8.4 .3 2.4 .4 9.7 .3-13.2 .4 8.9 .3 8.5 .4-13.2 .3 3.6 .4 9.2 .3 .4 .4-7.6 .3 1.2 .4 .8 .3-.4 .4 9.8 .3-5 .4-1.5 .3 .9 .4 10.3 .3-20.3 .4 14.8 .3 4.8 .4-4.4 .3-.8 .4 9.5 .3-1.2 .4 10.3 .3-14.8 .4 6.6 .3-8.1 .4 13.4 .3-.8 .4-1.9 .3 2.8 .4-1.5 .3-1.2 .4-2.2 .3 5.7 .4-1.8 .3-4.8 .4 2 .3 1.8 .4 8 .3-8 .4-.8 .3-6.2 .4 12.3 .3-2.8 .4 0 .3 .4 .4 2.5 .3-12.3 .4 4.5 .3 4 .4 6.5 .3-1.6 .4 2.9 .3-2.8 .4 1.9 .3-7.2 .4 1.3 .3 2.1 .4-.2 .3 5.5 .4-3.7 .3 .2 .4-.5 .3 8.6 .4-10.7 .3 6.4 .4-6.7 .3 5.1 .4 .2 .3-3.2 .4-4.5 .3 7.8 .4-.7 .3-2.5 .4 .7 .3-.9 .4 15.3 .3-15.9 .4-6.2 .3-.4 .4 13.4 .3-14.2 .4 13.6 .3-6.2 .4 4.2 .3-1.1 .4 5.1 .3-7.8 .4 2.3 .3-4.5 .4-7.2 .3 19.6 .4-15.2 .3 11.2 .4 2.8 .3-3.1 .4-7.2 .3 15.1 .4-16 .3 12.8 .4 1.7 .3-14.3 .4 11.9 .3-8.6 .4 8.3 .3-14.2 .4 22.3 .3-5.9 .4-3.4 .3-2.1 .4 11 .3-5.4 .4-.2 .3-4.4 .4 .8 .3 1.5 .4-3.9 .3 6.4 .4 9.5 .3-7 .4 2.1 .3-1.7 .4 11.1 .3-16.2 .4-7.5 .3-6.4 .4 14.8 .3 4.9 .4 4.8 .3-14.5 .4 5.6 .3 12.4 .4-21.9 .3 8 .4 3.8 .3-4 .4 6.2 .3-11 .4 7.3 .3 .5 .4 9.5 .3-2.7 .4 .5 .3-9.6 .4 13.9 .3-8.5 .4 8.9 .3-17 .4 2.7 .3 3 .4 12.4 .3-14.5 .4 6.1 .3-2.4 .4 8.3 .3-6.1 .4 10.9 .3-15.2 .4 18.4 .3-12.4 .4-7.2 .3 11.8 .4-4.7 .3-4.6 .4 13.3 .3-10.6 .4-4 .3 9 .4 2.9 .3-.2 .4-12.9 .3 18.4 .4-8 .3 2.3 .4-10 .3 1.8 .4 1.7 .3 3.6 .4 13.1 .3-11.6 .4-.3 .3 7.6 .4 1.4 .3-4.4 .4-9 .3-8.2 .4-4.9 .3 10.3 .4-5.1 .3 10.1 .4 5.7 .3-15.4 .4 .3 .3 .5 .4-12.5 .3 10.6 .4 4.5 .3 9.9 .4-25.7 .3 12.6 .4 3.7 .3-16.9 .4 5.1 .3 9.1 .4-12.7 .3 1.5 .4 3.1 .3 5.6 .4-5.6 .3-6 .4 6.4 .3-10.4 .4-2.9 .3 5.6 .4 .2 .3 1.4 .4-.1 .3-4.9 .4-8.7 .3 .2 .4 8.2 .3 6.6 .4-10.7 .3 1.8 .4 6.9 .3-11.9 .4 11.6 .3-7.6 .4-.6 .3 6.9 .4-7.4 .3 9.7 .4-12.3 .3 1.5 .4 2.2 .3 7.4 .4-10.1 .3 7.5 .4 .9 .3 4.3 .4-10.1 .3 5.9 .4 3.1 .3 6.6 .4-11.4 .3 2.4 .4-1.6 .3-20.9 .4 20.5 .3-1.5 .4-6.2 .3 1.8 .4 4.3 .3 2 .4-.7 .3-2.3 .4 3.6 .3 5.5 .4-5.9 .3 12.8 .4-1.9 .3-2.7 .4-8.7 .3 1.8 .4-14.5 .3 14.6 .4-.7 .3-2.7 .4-8.7 .3 19.3 .4 1.8 .3-7.5 .4 6.8 .3-7 .4-9.6 .3 12.1 .4-1.8 .3 1.6 .4 1.4 .3-5.5 .4-2.7 .3 16.6 .4-5 .3 2.3 .4-8.9 .3-8.7 .4 7.4 .3 17.2 .4-3.9 .3-15.1 .4 8.4 .3-2.5 .4 8.3 .3 11.2 .4-14 .3 6.7 .4-2.9 .3-1.4 .4-2.8 .3 2.7 .4 8 .3-.2 .4 2.2 .3-8.6 .4 1.1 .3 5.5 .4-1.4 .3-3.9 .4 2.8 .3 13.3 .4-10.2 .3 4.9 .4 2.8 .3-5.9 .4 12.1 .3-8.4 .4 3.6 .3-6.8 .4 7.3 .3-4.3 .4 4.3 .3-7.3 .4 .3 .3 3.2 .4 5.3 .3-12.2 .4 8.6 .3-.7 .4 7.2 .3-20.1 .4 5 .3 13.9 .4-2.4 .3 1.3 .4-2.8 .3 2 .4 1 .3 2.9 .4-12.9 .3 3 .4 11.7 .3 .1 .4-12.1 .3 16.3 .4-6.8 .3 2.3 .4-6.6 .3-3.6 .4 5.5 .3-.4 .4-6.1 .3 7.4 .4-.1 .3-10 .4 5.2 .3 4.3 .4-3.8 .3 9 .4 3.2 .3-13.2 .4 7.8 .3 1.3 .4 3 .3-14.3 .4 3.1 .3 8.1 .4 4.6 .3-5.1 .4-7 .3 7.8 .4-7.2 .3-8.7 .4 13.7 .3 4.6 .4 .5 .3-4.8 .4-5.7 .3-2.8 .4 11 .3-9.9 .4 7.4 .3 .5 .4-6.4 .3 2.9 .4 .7 .3 4.6 .4-8.2 .3 3.1 .4 1.9 .3-8.5 .4 4.2 .3-.2 .4 3.9 .3-7.7 .4 6.3 .3 2.1 .4 6.4 .3-8.1 .4 8.8 .3-6.5 .4 3.5 .3-10.5 .4 .7 .3 6.2 .4-6.5 .3 13 .4-8.5 .3 14.6 .4-19.1 .3 7.2 .4-.5 .3-1.9 .4 1.4 .3-14.6 .4 13 .3 5.9 .4-6.5 .3-7.2 .4 5.5 .3 2.7 .4 5.1 .3-9 .4 10.6 .3-10.9 .4 10.2 .3-4.1 .4 12.2 .3-9.5 .4 3.4 .3-9 .4-9.4 .3 11.8 .4 .3 .3-4.5 .4 4.1 .3-10.7 .4 9.5 .3-3.8 .4 13.9 .3-8 .4 .3 .3-.2 .4-11.4 .3 5.6 .4 13.3 .3-3.8 .4-11.4 .3 9.6 .4-3.8 .3 5.1 .4-1.9 .3-.7 .4-7.5 .3 4.8 .4-1.7 .3 3.3 .4 6.8 .3-3.1 .4 .9 .3 1.3 .4-11.4 .3 5.2 .4 7.4 .3 1.1 .4-20.1 .3 6.7 .4 8.3 .3 15.6 .4-22.1 .3 3.1 .4 2.1 .3 3.8 .4-13.4 .3 4.4 .4-1 .3-1.9 .4 3.1 .3 6.2 .4 4.4 .3-3.9 .4-2.2 .3-1.8 .4-3.7 .3-3.4 .4 .1 .3 13.7 .4 .5 .3-4 .4-1.4 .3-1.6 .4 2.4 .3-5.2 .4-3.1 .3-2.8 .4 8.9 .3-6.5 .4-5.5 .3 8.6 .4-2.6 .3 9.6 .4 7.9 .3-9.1 .4 1.6 .3 6.3 .4-19.1 .3 .1 .4 7.4 .3-2.5 .4 3.6 .3 5.2 .4-7 .3-10.3 .4 26.8 .3-22.9 .4-1.5 .3 14 .4-16.6 .3 2.9 .4 7 .3-5.1 .4 5.6 .3 5.6 .4-6.2 .3-3 .4 5.5 .3-1.5 .4 15.2 .3-23 .4 13.3 .3-9.4 .4 4 .3-14.6 .4 5.3 .3-1.1 .4-3 .3 6.3 .4 12.8 .3-19.2 .4 18 .3-9.4 .4 .8 .3-8.6 .4 9.5 .3 7.2 .4-12.3 .3 3.7 .4-.8 .3-2.7 .4-3.7 .3 12.7 .4-2.5 .3-9.1 .4 11 .3-12.5 .4 5.4 .3-10.3 .4-2.2 .3 8.2 .4 13.2 .3-9.8 .4 5.6 .3 3.7 .4-8.5 .3-7.2 .4 5.3 .3-3.9 .4 5.9 .3-6.7 .4 11.3 .3-1.8 .4-5.4 .3-1 .4 1.7 .3-3.8 .4 .9 .3 4 .4-10.4 .3 1 .4 .5 .3-12.6 .4 20.6 .3-10.4 .4 10.2 .3-21.6 .4-1.1 .3 9.8 .4 1.9 .3 4.8 .4-1.6 .3 2.7 .4-8.2 .3 14.1 .4-10.8 .3-16.1 .4 5 .3-.5 .4 3.8 .3-3.8 .4 5.3 .3 5.5 .4-17.1 .3 5 .4 14.1 .3-.5 .4 .3 .3-10 .4 5.6 .3-5.4 .4-13 .3 5.6 .4 7.8 .3-4.1 .4-9.2 .3 1.7 .4 8.2 .3-.7 .4-4.4 .3 13.1 .4-11.9 .3 .5 .4 3.5 .3-.3 .4 .1 .3-10.9 .4 34.2 .3-17.7 .4-1 .3-5.4 .4 3.2 .3 4 .4-6.3 .3 9.2 .4-.5 .3-5.5 .4-2.1 .3 9.6 .4 10.1 .3-11.7 .4 5.2 .3-6.1 .4-3.4 .3 12.6 .4-9 .3 16.5 .4-18.2 .3-2.7 .4 11.7 .3 3.8 .4 .8 .3-3.8 .4-7.3 .3 14.8 .4-12.1 .3 20.3 .4-16.2 .3 2.8 .4 .2 .3 10.8 .4 4 .3-8.2 .4 .8 .3-10.8 .4 15.2 .3-19.3 .4 21.5 .3-3.4 .4-9.6 .3 13.2 .4 .2 .3 7.2 .4-.9 .3-8.6 .4 2.1 .3-9.9 .4 15.4 .3-14.3 .4 4.2 .3-4.7 .4 5.6 .3 6.8 .4-7.7 .3 5.8 .4-7.4 .3 10.7 .4 3.1 .3-4.6 .4-.4 .3-4.9 .4 10.1 .3 3.4 .4-8 .3 1.6 .4-2.3 .3-4.4 .4 7.4 .3-8.4 .4 16.7 .3 4.2 .4-4.7 .3-3.1 .4-2.3 .3 1.7 .4-7.6 .3 9.4 .4-.6 .3 3.8 .4 7.2 .3-8.4 .4 8.5 .3-4.1 .4-8.8 .3 8.7 .4-3.1 .3 3.4 .4 .5 .3-.6 .4-2.7 .3 5 .4-4.7 .3-2.1 .4 4.6 .3-8.6 .4 12.7 .3 1.6 .4-5.7 .3 9.1 .4-2.9 .3-3.7 .4 2.4 .3 1.8 .4-7.9 .3 5.7 .4 3.9 .3-3.5 .4-5.4 .3 9.9 .4-20 .3 10.4 .4 2.3 .3 9.4 .4-18.3 .3 2.3 .4-.1 .3 5.3 .4-3.2 .3-1.7 .4 11.7 .3-2.2 .4-3.3 .3-3.7 .4 2.4 .3 1 .4 13.6 .3-18.9 .4 3.5 .3 .1 .4 2.1 .3 7.8 .4-14.7 .3 2 .4 13.1 .3-5.1 .4 7.6 .3-13.1 .4-4.7 .3 5.5 .4-.5 .3 8.2 .4-8.7 .3 5.5 .4 4.1 .3-3.6 .4-2.6 .3 .2 .4 3.4 .3 2.7 .4-10 .3-2 .4 17.4 .3-18 .4 7.2 .3-5.8 .4 15.4 .3-6 .4 6.6 .3-.1 .4-11.4 .3 5.5 .4-10.5 .3 6.8 .4 7.9 .3-1.6 .4 0 .3-1.7 .4-2.7 .3 6.9 .4-2.6 .3-.8 .4 6.4 .3-8.3 .4 13.9 .3-12 .4 11.4 .3-8.5 .4-3.7 .3 1.9 .4 5.7 .3-.9 .4 1.1 .3-2.1 .4-2.5 .3-2 .4-.5 .3 3 .4-9.6 .3 13 .4-.8 .3-.8 .4-4.1 .3 5.2 .4 4.4 .3-10 .4 .5 .3 4.4 .4 3.4 .3-7.9 .4 11.3 .3-15.6 .4 21.8 .3-17.9 .4 2.1 .3 2.8 .4-4.6 .3 6.9 .4-3.1 .3 13.2 .4-8.7 .3 5.2 .4-4.6 .3 6.2 .4-4.2 .3-10.9 .4 6 .3 4.6 .4 .3 .3-14.9 .4 6.6 .3-4 .4 .4 .3 9.7 .4-.1 .3-14.2 .4 6.2 .3 13.4 .4 1 .3-2.1 .4-11.7 .3 7.7 .4 5.5 .3-6.8 .4-2.1 .3-1.4 .4 5.8 .3 3.6 .4 5.1 .3-11.2 .4 1.1 .3-9.5 .4 15.8 .3-10.6 .4 12.2 .3-12.9 .4 4 .3 4.4 .4-2.4 .3-15.4 .4 12.5 .3 2.4 .4 13.7 .3-6.5 .4 1.4 .3-3.1 .4 2.9 .3-8.4 .4-8.5 .3 3.7 .4 6.8 .3-6.1 .4 3 .3-.7 .4 9.6 .3-24.4 .4 8 .3 8.7 .4-2.5 .3 13.8 .4-6.6 .3-4.2 .4-4.9 .3 4.3 .4-1.6 .3-8.2 .4 3.7 .3 8.6 .4-1.2 .3-1.6 .4 9.7 .3-15.7 .4 3.5 .3 6.9 .4 2.2 .3-11.3 .4 6.3 .3-3.9 .4-3.9 .3 6.3 .4-4.7 .3 9.8 .4-3.2 .3-3.7 .4 8.4 .3 1.5 .4-12.4 .3-5.7 .4 5.4 .3 4.9 .4-14.7 .3 1.5 .4 19.5 .3-7 .4 3.1 .3-2.7 .4-3.4 .3 5.1 .4-3.3 .3 7.7 .4-6.5 .3 1.9 .4-2.9 .3-5.5 .4 2.7 .3 8.1 .4-12.1 .3 8.3 .4-4.9 .3 2.8 .4 10.2 .3-15.6 .4 1.7 .3 .3 .4 12.8 .3-4.1 .4-12.3 .3 3.8 .4 3.7 .3-.6 .4-1.6 .3 9.2 .4-10.7 .3 7.8 .4-2.4 .3-.7 .4-9.9 .3 5.2 .4 13.4 .3-4.9 .4-11.6 .3 10.4 .4-11.5 .3 14.8 .4-8.9 .3 14.1 .4-2.3 .3-2.8 .4-11.2 .3 7 .4-6.2 .3 2.8 .4-1.7 .3 3.8 .4 4.6 .3 .9 .4-16.9 .3 6.6 .4-1.1 .3 13.1 .4-12.1 .3 9.6 .4-2.5 .3 4.1 .4-6.7 .3-1.1 .4 8 .3 1.7 .4-7.3 .3-1.5 .4-.6 .3 1.6 .4 7.1 .3-10.3 .4 12.1 .3-15.1 .4 8.8 .3-5.7 .4 6.8 .3 12.2 .4-18.3 .3 11.3 .4-14.9 .3 10.7 .4 11.5 .3-12.2 .4-11.5 .3 6.5 .4 3.9 .3-7.2 .4 15.9 .3-2.8 .4-11.2 .3 8.8 .4-2.5 .3-11.9 .4 20.1 .3-3.4 .4-18.4 .3 19.3 .4-7.9 .3 4.8 .4-5 .3-7 .4 8 .3 8.3 .4-20.1 .3 10.6 .4-3.7 .3 7.6 .4-11.6 .3 10.9 .4-4.7 .3 5.6 .4-3.9 .3-5.8 .4 5.6 .3 2.7 .4-1 .3 8.2 .4-11.1 .3 4 .4 3.2 .3 4.2 .4-12.2 .3 .7 .4 1 .3-4.4 .4-1.5 .3 12.3 .4-2 .3 3.7 .4 1.5 .3-12.6 .4 3 .3-3.2 .4 3.1 .3 9.5 .4-16.1 .3 15.6 .4-11.9 .3 7.5 .4 9 .3-5.1 .4-15.1 .3 8.6 .4 7 .3-15.5 .4-.2 .3 8.4 .4-8.5 .3-.1 .4 6.9 .3 7.4 .4-5.1 .3 4.8 .4-4.6 .3-.3 .4 3.1 .3-8.1 .4 1.8 .3-.2 .4-.8 .3-4.2 .4 4 .3-.3 .4 8.1 .3-10.5 .4 9.1 .3-8.3 .4 13.9 .3-16.6 .4-12.3 .3 21.9 .4-1.2 .3-.2 .4 6.3 .3-2.3 .4-9.8 .3-2.3 .4 6 .3-5 .4 .7 .3 .1 .4 8.9 .3 .6 .4-5.9 .3 5.2 .4-10.1 .3 3.3 .4 5.1 .3-8.5 .4 12.2 .3-9.4 .4 1.5 .3 4.2 .4-13.6 .3 11.1 .4-5 .3-8 .4 8.2 .3 5.5 .4-16.6 .3 14.6 .4-14.5 .3 8.1 .4 2.8 .3 10.5 .4-8.1 .3-.4 .4 2.6 .3 1.1 .4-4.9 .3 1.1 .4 1.2 .3-4.7 .4 8.3 .3-3.3 .4 2.1 .3 .6 .4-10.2 .3 2.3 .4 3.8 .3-3.9 .4 .2 .3 .2 .4 .6 .3 5.9 .4-17.4 .3 16.1 .4-10.2 .3 16.1 .4-7.6 .3 6.2 .4-4.7 .3-2.8 .4-4.2 .3 3.8 .4 6.1 .3-9.9 .4 1.1 .3-.5 .4 3.6 .3-3.5 .4 7.8 .3-12.3 .4 .6 .3 10.3 .4 1.4 .3-2 .4 7.1 .3-4.5 .4-10.5 .3-2.1 .4 4 .3-.6 .4 4.6 .3-4.4 .4 .1 .3 .9 .4 2.5 .3 2.6 .4-1.8 .3 5.2 .4-4.3 .3-.7 .4 5.3 .3 5.9 .4-13.6 .3-5 .4-1.8 .3 12.6 .4-15.3 .3 11.1 .4 5.9 .3-19.3 .4 13.4 .3 3.1 .4-2.3 .3-.8 .4-18.9 .3 17.3 .4-8.7 .3 4.3 .4 4.9 .3 3.8 .4-2.1 .3 4.9 .4-13.4 .3 10.1 .4-3.7 .3-3.4 .4 1.3 .3 6.2 .4 2.3 .3-14.5 .4 16.9 .3-14.1 .4 5.4 .3 1.3 .4-3.5 .3-10.4 .4 9.7 .3 5.5 .4-5.2 .3 5.4 .4-3.1 .3 2.8 .4 1.8 .3 15.5 .4-16.6 .3 4.2 .4-9 .3 5.1 .4-10.8 .3 11.5 .4 1 .3-12.2 .4 10.7 .3-1.9 .4 3.1 .3-3.2 .4-3.1 .3-5.1 .4 5.4 .3 2.7 .4-8.6 .3 1.7 .4-8.7 .3 12.4 .4 4 .3 2 .4-16 .3 11.6 .4-7.9 .3 14.7 .4-14.2 .3-2 .4 14.5 .3-11.3 .4 4.1 .3-9 .4 21.8 .3-20.4 .4 3.2 .3-.5 .4 5.5 .3-7.8 .4 6.7 .3 3.7 .4 11.2 .3-2.1 .4-14.7 .3 5.2 .4-3.9 .3-8.8 .4 5.1 .3 4.5 .4-1.6 .3 2 .4 6.4 .3-1.6 .4-2.2 .3-6.1 .4 3.4 .3 6.8 .4-2.8 .3-12.2 .4 11.6 .3-3.4 .4-1.7 .3 7.6 .4-5.5 .3-2.9 .4 4.8 .3-6 .4 5.1 .3-7.7 .4 11.6 .3-13 .4 9.5 .3-8 .4 12.1 .3-2.1 .4-7 .3 4.8 .4 3.6 .3-10 .4 2.6 .3 7.8 .4-16.8 .3-1.2 .4 13.5 .3-3.5 .4-7.9 .3 5.6 .4 8.1 .3-1.7 .4-9.4 .3 14.2 .4-4 .3-4 .4 7.5 .3 0 .4-6.4 .3-4 .4 11.4 .3 2.4 .4-6.1 .3-9 .4 3.5 .3 21.7 .4-22.5 .3 3.1 .4 2.7 .3-3.9 .4 9.5 .3-2.1 .4-7 .3 6.6 .4 .6 .3 7.1 .4 2.2 .3-18.6 .4 5.3 .3 3.9 .4 3.9 .3-10.9 .4-5.1 .3 15.9 .4-9.3 .3 1 .4 1 .3-1.7 .4 10.3 .3-18.5 .4 18.5 .3 .7 .4-5.7 .3 2 .4-9.6 .3 8.9 .4-2.1 .3-6.2 .4 5 .3 .9 .4 3.6 .3-4.3 .4-3.7 .3 4.3 .4-4.4 .3 10.1 .4-1.3 .3 1.3 .4 6.4 .3-3.1 .4-6.4 .3-4.6 .4 5.6 .3 25.9 .4-26.3 .3 2.4 .4-4.6 .3 8.2 .4-3.8 .3 4.5 .4-5 .3-3.2 .4 15.2 .3-9.9 .4-.3 .3-1 .4-5.2 .3-1.5 .4 8.9 .3-8.9 .4-1.1 .3 .7 .4 4.4 .3-14.4 .4 16.2 .3-3.4 .4 13.1 .3-7.5 .4-12.9 .3 21.7 .4-11.1 .3-6.9 .4 10.5 .3-10.1 .4 13.9 .3-18.6 .4 3.7 .3 4.6 .4 5.4 .3 2.3 .4-9.9 .3-3 .4 1 .3 8.5 .4 2.9 .3-18 .4 14 .3 8.9 .4-10 .3-2.9 .4 6.1 .3 2.4 .4-4.9 .3-7.1 .4 10.6 .3 10.3 .4-8.6 .3-1.3 .4-11.4 .3 3.3 .4 6.4 .3-.7 .4-3.7 .3-11.4 .4 10.3 .3 6.2 .4 13.1 .3-14.6 .4-1.1 .3 7.2 .4-9.5 .3 .8 .4 4 .3 .2 .4 1.4 .3 .7 .4-3 .3-5.1 .4 1.6 .3 4.7 .4-5.9 .3-2.7 .4 6.6 .3-17.4 .4 20.6 .3-4.7 .4-4.3 .3 .2 .4 0 .3 7.9 .4-9.1 .3 8.2 .4-3 .3-1.4 .4 3.9 .3-7.6 .4 20.6 .3-13.7 .4-4.7 .3-7.7 .4 6.7 .3-1.9 .4 .2 .3 1.7 .4 13.3 .3-6.8 .4 2.1 .3-5.4 .4-7.9 .3 5.1 .4-3.9 .3 6.5 .4 .6 .3 9.2 .4-17.8 .3 12.8 .4-7.6 .3 3.8 .4-7.8 .3 16.7 .4-9.8 .3 2.9 .4 6.7 .3-10.9 .4-1.6 .3 2.8 .4-6 .3-4.6 .4 10.9 .3-3 .4-9.6 .3 10.8 .4-9.8 .3-3.4 .4 5.6 .3 1.8 .4-3.3 .3-.3 .4 6.7 .3-.1 .4-5.7 .3-12 .4 9.2 .3-11.6 .4 5.5 .3 9.7 .4 5.6 .3 4.8 .4-4.4 .3 7.1 .4 1.1 .3-13.5 .4 3.5 .3 4.7 .4-6.8 .3 7.5 .4-3.5 .3-1 .4 6.3 .3 8.9 .4-16.1 .3 6 .4 2.8 .3 6.1 .4-3.6 .3-7.1 .4 13.4 .3-.4 .4 1.9 .3 1.9 .4-2.3 .3-15.8 .4 5.8 .3 6.1 .4 2.8 .3 1.7 .4 1.1 .3-8.6 .4 6.7 .3-2.8 .4 4.4 .3 7.7 .4-14.6 .3 8.7 .4-7 .3 2.2 .4-3 .3 4.3 .4 2.8 .3-14.5 .4 22.4 .3-2.4 .4 3.5 .3-7.3 .4 1.9 .3-7.6 .4 5.7 .3-6.9 .4 13.2 .3-9.7 .4 9.7 .3-7.9 .4 10 .3-7.3 .4-10.9 .3-3.8 .4 8.8 .3 1.7 .4-6.4 .3 12.8 .4 .9 .3-1.6 .4-.1 .3-1.7 .4-6.2 .3 7.6 .4-13.5 .3 11.6 .4 4.1 .3-15.6 .4 22.4 .3-17.1 .4 12.2 .3-8.1 .4 2.5 .3-4.6 .4 4.3 .3-.2 .4-3.1 .3 10 .4-2.5 .3-1.7 .4-8.2 .3 10.1 .4 4.4 .3-1.2 .4 .5 .3-3.6 .4 .8 .3-8.9 .4 9.6 .3-5.8 .4-4 .3 8.1 .4 0 .3 1.5 .4-8.2 .3 6.8 .4 6.3 .3-3.7 .4-1.6 .3 .4 .4-4.6 .3 6.2 .4-15 .3 5.3 .4-2.2 .3-4.9 .4 17.1 .3-6.9 .4 3.5 .3 .1 .4-3.5 .3 7.3 .4-7.9 .3 6 .4-3.4 .3-4.1 .4 8.2 .3 7.3 .4-3.1 .3 2.7 .4-14.9 .3 15.5 .4-20.3 .3 12.5 .4 1 .3 1.3 .4-.7 .3-4.3 .4-1.5 .3 4.9 .4-3.8 .3-8.1 .4 22.9 .3-15.1 .4 9.5 .3-7 .4-3.1 .3 2.4 .4-1 .3-1.7 .4 1.5 .3-2.5 .4 6.3 .3-.5 .4 .1 .3-10 .4 10.7 .3 7.8 .4-16.4 .3 7.5 .4 7 .3-8 .4 7.6 .3-9.3 .4-11.4 .3 26.3 .4-7.5 .3-13.6 .4 8 .3 .5 .4-6.4 .3-7.1 .4 15.2 .3 .3 .4-10.2 .3-2.4 .4 17.5 .3-5 .4-4 .3 7.6 .4-5.1 .3-7.6 .4 7.9 .3 13.6 .4-18.2 .3 9.5 .4-5.8 .3 3.9 .4-.5 .3 2.9 .4 1.8 .3-8 .4 10.1 .3-6.7 .4-9.4 .3 24.2 .4-15.2 .3-6.3 .4 8.6 .3-1 .4 6.9 .3-.8 .4-5.4 .3-.6 .4 2.1 .3 .1 .4-.3 .3-.3 .4-8.7 .3 10.3 .4 .7 .3-.9 .4-9.9 .3 3.8 .4-15.3 .3 1.8 .4 13.9 .3 2.3 .4-3.3 .3 1.9 .4 2.8 .3-8.8 .4 8.6 .3 1.4 .4-9.3 .3 9.3 .4-8.5 .3 3.7 .4-.5 .3-.6 .4-12.9 .3 23 .4-17.8 .3 9.6 .4-2.7 .3 1.1 .4-5.4 .3 4.3 .4 1.6 .3 3.2 .4 2.9 .3-5.5 .4-4.2 .3 5.7 .4-.4 .3 2.5 .4-9.2 .3 7.5 .4-15 .3 19.6 .4-8.3 .3 7.3 .4-5.3 .3 4.4 .4 2.2 .3-15.2 .4-1 .3 13 .4-2.4 .3-7.9 .4 1.5 .3-.2 .4 7.2 .3-10.3 .4-1.5 .3 5.6 .4-2.5 .3 8.3 .4-.8 .3-8.7 .4 10 .3 .6 .4-5.7 .3-3.3 .4-3.6 .3 10 .4 6.1 .3-1.4 .4-4 .3 14.1 .4-23.5 .3 11.7 .4-8.7 .3 7.9 .4-7.7 .3 1.9 .4 6.1 .3-12 .4 4.4 .3-3 .4 7.9 .3 1.2 .4 1.1 .3-13.1 .4 .6 .3 10.1 .4-.5 .3-6.7 .4 6.6 .3 .7 .4-4.4 .3 20 .4-22.3 .3 11.4 .4-6.1 .3 .3 .4-6 .3 3.1 .4 .7 .3-1.1 .4 5.8 .3 1.2 .4-3.2 .3 3 .4-5.5 .3-3.1 .4 .3 .3-1.2 .4 2.5 .3 .6 .4 4.3 .3-4.4 .4 8.7 .3-1.5 .4-5.6 .3-6.4 .4 7.3 .3 1.1 .4 2.8 .3 .3 .4-1.4 .3-.3 .4 1.8 .3 6.1 .4-9.9 .3-2.9 .4 12.9 .3-6.7 .4-9 .3 5 .4-3.1 .3 11 .4-13.2 .3 1.6 .4-2.7 .3-3.4 .4 14.2 .3-18.4 .4 16.8 .3-5.9 .4 9.1 .3-7.7 .4 8.9 .3 .7 .4 .9 .3-5.7 .4-.2 .3 .7 .4-16.7 .3 24.1 .4-12.5 .3-.6 .4 3 .3 1.7 .4-3.4 .3-5.1 .4 1.8 .3 10.2 .4-6.5 .3-3.1 .4-2.8 .3-1.2 .4 3 .3 4.9 .4-2.2 .3-8.6 .4 3 .3-6 .4 11.1 .3 4.2 .4-1.6 .3 7.3 .4-12.3 .3 13 .4-17.2 .3 8.1 .4-3.9 .3 3 .4 3 .3-8.1 .4-7.3 .3 6 .4 2.2 .3-1.9 .4 14.9 .3-12.3 .4-2.2 .3 8.8 .4-2.5 .3-4.1 .4-.9 .3 5.9 .4-1 .3 2.3 .4-1.3 .3-9.7 .4 11.5 .3-15 .4 .6 .3-.9 .4 7.4 .3 14.3 .4-12 .3 .6 .4-2.1 .3 9.4 .4-18.9 .3 13.3 .4 1.8 .3 5.1 .4-8.8 .3-1.8 .4-.6 .3-7.9 .4 8.2 .3 2 .4 2.4 .3 1.8 .4-12.9 .3 2 .4 8.4 .3-10.1 .4 19 .3-19.9 .4 7.7 .3-3.9 .4 9.1 .3-8.5 .4 5.7 .3-2.9 .4-1.2 .3 4.2 .4 5.5 .3-4 .4-4.2 .3-6.6 .4 3.3 .3-5.3 .4 16 .3-12.4 .4 9.6 .3 3.9 .4 5 .3-5.8 .4-11.2 .3 5.6 .4-2.3 .3-6 .4-4.4 .3 18.6 .4-8.6 .3 5.5 .4-.8 .3-4.5 .4 .7 .3 7.9 .4 .9 .3-.3 .4-6.1 .3 2.1 .4-4.5 .3-8.7 .4 16.3 .3-13.4 .4 4.3 .3-4.4 .4 8.9 .3 8.2 .4-2 .3-10.2 .4 9.8 .3-17.1 .4 8.2 .3-4.5 .4 3.2 .3 5.5 .4-12.6 .3 17.7 .4-1.6 .3-2.1 .4-4 .3 4.9 .4 1.6 .3-8.3 .4-8.6 .3 7.2 .4 2.7 .3-11.2 .4 14.4 .3-5.4 .4 .1 .3 9.5 .4-11.2 .3-1.7 .4 8.1 .3-7.6 .4 10.5 .3-9.4 .4 2 .3 6.6 .4-7.3 .3-2.7 .4 11.1 .3-15.5 .4 4.3 .3 9.6 .4-4.8 .3 5.8 .4-9.4 .3 6.7 .4-4.6 .3 11 .4-2.1 .3 1.9 .4-3.1 .3-3.4 .4-.6 .3-3.4 .4 4.2 .3-6.3 .4 3.4 .3-9.6 .4 13.3 .3-2.5 .4-1.7 .3-1.2 .4 2.8 .3-5.4 .4 .3 .3 12.5 .4-22 .3 17.9 .4-10.1 .3 8.1 .4-9.5 .3 4.6 .4 12.8 .3-16.3 .4 1.7 .3 6.1 .4-3 .3-3 .4-8.3 .3 8.1 .4-.2 .3 7.5 .4-1.9 .3-11.8 .4 11.2 .3 4.4 .4 .1 .3-3.8 .4 9.2 .3-19.9 .4-1 .3 20.2 .4-10.8 .3 3.4 .4-5.3 .3 1.5 .4 15.1 .3-4 .4-2 .3-9.2 .4 1.4 .3-13 .4 4.3 .3 7.9 .4 1.2 .3-2 .4 3.6 .3 6 .4-6.3 .3-7.8 .4 7.9 .3-2.7 .4 5.5 .3-3.4 .4-6.2 .3 5.5 .4 9.1 .3 3.9 .4-5.2 .3-12.2 .4 4.1 .3 1.5 .4-7.2 .3 5.6 .4-6 .3-8 .4 12.7 .3-2.5 .4 14.9 .3-7.2 .4-8.4 .3-1.1 .4 .1 .3 19.6 .4-8.2 .3-9 .4-10.1 .3 19.6 .4-10.8 .3-5.4 .4 11.1 .3-1.9 .4 .9 .3-.5 .4-2.1 .3 1.6 .4-4.2 .3 10 .4-14.6 .3 13.6 .4-5.6 .3-8.3 .4 13.3 .3-5.3 .4 5.8 .3 8.4 .4-15.7 .3-1.6 .4-4.7 .3-1.4 .4 3 .3 11.3 .4 1 .3-12.7 .4 17.1 .3-4.5 .4-10.5 .3-.6 .4 3 .3-4.8 .4-2.3 .3 9.2 .4-3.5 .3-11 .4 6.7 .3 4.2 .4 16.2 .3-10 .4-2.9 .3-2.4 .4 4.4 .3-5.6 .4-2.9 .3 18.7 .4-22.9 .3 9.1 .4 14.5 .3-7.8 .4 3.2 .3-22.2 .4 23 .3-5.2 .4-14.1 .3 23.4 .4-3.8 .3-15.8 .4 4.1 .3 3 .4-11.1 .3 6 .4 8.3 .3-5.8 .4-.6 .3 1.5 .4 .7 .3 .4 .4-8.1 .3 19.6 .4-9.9 .3-1.6 .4-5.8 .3-2.3 .4 10 .3-11.4 .4 0 .3 4.2 .4 11.2 .3-9.6 .4 5.4 .3-9.6 .4 1.7 .3-1.8 .4 5.9 .3-9.5 .4 6.6 .3-6.1 .4 12.4 .3 0 .4-1.6 .3-9 .4-.7 .3-.6 .4 11.5 .3-6.2 .4 2.9 .3 4.5 .4 6.7 .3-11.5 .4-1.2 .3-3.4 .4 10.3 .3-11.4 .4 16.1 .3-13.2 .4-.2 .3 3.8 .4 2.5 .3-4.8 .4 2.2 .3-9.8 .4 11.1 .3-7.5 .4 3.3 .3-1.3 .4 4.6 .3 0 .4-5.2 .3 9.6 .4-15.4 .3-11.8 .4 21.4 .3 11.2 .4-25.2 .3 9.3 .4 2.4 .3-1 .4 1.3 .3 .1 .4 .5 .3-2.4 .4 5.1 .3-7.6 .4-1.1 .3-2.6 .4 2.1 .3-6.5 .4 11.5 .3 .2 .4 4.1 .3-8.6 .4 8.4 .3-4.7 .4 9.1 .3-6.3 .4-.2 .3-5.5 .4 9 .3-7.7 .4 11 .3-3.8 .4-9.8 .3 5 .4 2.4 .3 6.6 .4-6.5 .3-1.7 .4 6.6 .3-12.4 .4-1.5 .3-.4 .4 8.6 .3-10 .4 19.2 .3-10.2 .4 3.6 .3-2.6 .4-6.6 .3 .4 .4-.7 .3 9.1 .4-5.3 .3-15.9 .4 18 .3 5.5 .4-2.9 .3-3.2 .4 8.7 .3-8.7 .4 4.1 .3-4.3 .4 1.7 .3-1.5 .4-10.1 .3 9.7 .4 1.5 .3-1.6 .4 4.4 .3 .2 .4-13.7 .3 12.3 .4 9.1 .3-11.3 .4 .1 .3-10 .4 10.3 .3 2.7 .4 15 .3-12.6 .4-1.4 .3-8.3 .4-1.5 .3 3.5 .4-6 .3 7 .4 3.9 .3-9.9 .4 11.4 .3-10.3 .4 3.5 .3-6.8 .4-2.1 .3 8 .4-6.8 .3 6.2 .4-1 .3-9.7 .4 5.9 .3 4.8 .4 4.2 .3-5 .4-4.1 .3-4.4 .4-3.9 .3 9 .4 .6 .3-.1 .4-.5 .3 3.8 .4-8 .3 2.3 .4 5.3 .3-12.8 .4 5.6 .3 .3 .4-9.8 .3-2.6 .4 1.4 .3 12.1 .4-5.3 .3-5.8 .4 .1 .3 4.2 .4 9.3 .3 2.8 .4-9.8 .3-4 .4 3.6 .3-5.2 .4-1.7 .3-4.4 .4 .8 .3 7.3 .4-3.7 .3 1.5 .4 7 .3-14 .4 9.7 .3-8.6 .4-3.3 .3 17.5 .4-15.9 .3 2.3 .4 1.1 .3 5.7 .4-6.4 .3 6.6 .4-15.3 .3 9 .4-6.9 .3 5.9 .4-1.1 .3-6 .4 8.9 .3-4 .4 5.4 .3-6.4 .4-2.5 .3-3.4 .4-1 .3-5.6 .4 13.2 .3-1.2 .4-5.4 .3 7.2 .4-2.3 .3-6.2 .4 9.4 .3-.3 .4-.1 .3-1.1 .4 5.2 .3-7.3 .4 7.7 .3-.1 .4-3 .3-2.7 .4-12.2 .3 13.2 .4-4.5 .3 11.9 .4-7.5 .3-4.4 .4-9.2 .3 2.8 .4 3.8 .3 2.2 .4 5.8 .3 .3 .4-7.3 .3-8.9 .4 8 .3 9.8 .4-1.7 .3 2.3 .4-6 .3 3.3 .4 7.2 .3 9.2 .4-22.1 .3 5 .4 16.7 .3-19.7 .4 11.1 .3-5.9 .4-11.4 .3 3.2 .4 9.3 .3 1.7 .4-.5 .3-3 .4 1 .3-1.3 .4-8.1 .3 22.9 .4 1.1 .3-1.6 .4-17.3 .3 9.3 .4-10.6 .3 5.5 .4 16 .3-18.4 .4 .4 .3 12.3 .4 2.3 .3-9 .4 2.1 .3-.9 .4-11.1 .3 14 .4-3.1 .3 9 .4-2.5 .3-12.6 .4 9.3 .3-1.1 .4 8 .3-1.1 .4-1.4 .3-1.5 .4 3 .3 1.4 .4-8.7 .3 4.2 .4-5.1 .3 1.8 .4 15.3 .3-7.2 .4 .6 .3-1.7 .4-13 .3 9.9 .4 10.6 .3-3.5 .4-6.5 .3 8.1 .4-8.1 .3 11.5 .4-9.7 .3 11.5 .4-13.2 .3-3.3 .4 7.1 .3 1.9 .4-16.1 .3 11.6 .4-.8 .3-.4 .4 3.1 .3-3.8 .4 2.5 .3 4.5 .4-4.5 .3 13.6 .4-17 .3 .6 .4 1.5 .3 8.3 .4-10.5 .3 21.4 .4-7.2 .3-5.4 .4-4.7 .3 6 .4-4.8 .3 2.7 .4 11 .3-9.3 .4 4.8 .3-1.2 .4 5.1 .3-10.7 .4 12.6 .3 5.3 .4-18 .3 8.7 .4-6.1 .3 3.3 .4-4.2 .3-.5 .4 3.2 .3-2.3 .4 1.8 .3-3.8 .4-6.7 .3 21.2 .4-9.5 .3-3.1 .4-4.7 .3 15.2 .4-11.4 .3 10.3 .4-6.9 .3 14 .4-14.1 .3 6.9 .4-8.9 .3 4.3 .4 20.3 .3-22 .4 3.6 .3-9.7 .4 1.1 .3 7.9 .4 3.2 .3-1.1 .4-5.7 .3 2.2 .4 6.6 .3-8.7 .4 3.9 .3-.1 .4-4.8 .3-1 .4 7.2 .3 2 .4 3.3 .3-9.7 .4 4.8 .3 6.1 .4-.4 .3-15 .4 4.8 .3-1.5 .4 8.7 .3-8.6 .4 11.1 .3-3.8 .4-10.8 .3 2 .4 12.4 .3-5.6 .4 .2 .3-4.9 .4 2.2 .3 1.2 .4 2.8 .3 4.1 .4-11.3 .3 12.8 .4-4.9 .3-7.4 .4 12.6 .3-9.8 .4 11.5 .3-6.8 .4 3 .3-1 .4 .4 .3-14.8 .4 12.6 .3 1.5 .4-2.4 .3-7.2 .4 18.1 .3 .6 .4-16.4 .3 .3 .4-2.1 .3 13.7 .4-11.6 .3-1.6 .4-2.4 .3 7.9 .4-1.8 .3-8 .4 7.9 .3 4.8 .4-8.5 .3 5 .4 4.6 .3 .5 .4 0 .3-9.7 .4 9.6 .3-6.5 .4 2.6 .3 4.1 .4-2.2 .3-.4 .4 1.3 .3-6.6 .4-6.2 .3 17.1 .4-10.6 .3 5 .4-11.7 .3 23.5 .4-11.9 .3-3.3 .4 7 .3-3 .4-4.7 .3 2.3 .4 10.3 .3-1.2 .4-12.6 .3 11.2 .4 1.4 .3-10.3 .4 10.2 .3-19 .4 9.3 .3-.4 .4-1.2 .3 7.3 .4-3.4 .3-5.4 .4-.8 .3 .7 .4 2.2 .3-7 .4 8 .3 6.1 .4-2.5 .3-14.1 .4 3.3 .3 7.4 .4 5 .3 13.4 .4-18 .3 4.2 .4-11.7 .3 8.4 .4-6.1 .3 5.8 .4 7 .3-9.7 .4 13.8 .3-8.3 .4 .1 .3 5.9 .4-11.6 .3 9 .4-10.6 .3 5 .4 1.6 .3-6.3 .4 9.9 .3-6.2 .4 7.2 .3-4.1 .4-13.7 .3 8.2 .4 .3 .3-4.6 .4 10.8 .3-10.8 .4 11.2 .3 1 .4-6.8 .3-1.9 .4-.4 .3-3.3 .4 8.7 .3-7.1 .4 14.7 .3-5.9 .4 6.9 .3-14.2 .4 .9 .3 6 .4 9 .3-11.4 .4-11.4 .3 7.7 .4-.8 .3-4.1 .4 1.1 .3 9.5 .4-.9 .3-23.1 .4 23.9 .3-9.8 .4 8.7 .3 10.3 .4-19.5 .3 5.1 .4 16.5 .3-12.5 .4 1.9 .3-6.6 .4 9 .3-18.6 .4 13.3 .3-13.3 .4 13.1 .3-1.2 .4 2.5 .3-6.7 .4 6.7 .3-.6 .4 1 .3-7.1 .4 .1 .3 1.7 .4-2.4 .3 6.7 .4-3.5 .3 3.5 .4 1.9 .3-4.9 .4 5.5 .3-3.1 .4-15.4 .3 26.4 .4-7.1 .3-11.3 .4 17.7 .3-18.4 .4 5.6 .3 4.3 .4-4.7 .3-.8 .4 6.6 .3-2.2 .4 5.2 .3-6.7 .4-6.4 .3 3.2 .4 7.9 .3-11.3 .4 7.9 .3-2.8 .4-9.1 .3-10.3 .4 4.8 .3-2.6 .4 8.7 .3-2.3 .4 1.8 .3 7.2 .4 4.8 .3-5.9 .4 13.1 .3-22.2 .4 13.8 .3 17.1 .4-19.7 .3-3.7 .4-1.3 .3 6.2 .4 2 .3 4.3 .4-14.8 .3 3.6 .4 2.8 .3 2.1 .4-4 .3 10.7 .4-6.5 .3-6.1 .4 3.8 .3 5.9 .4 .3 .3 .8 .4-4.1 .3 1.8 .4-9.2 .3 5.6 .4-.6 .3 6.8 .4-23.4 .3 14.7 .4 4.4 .3-8.4 .4-.6 .3 9.5 .4 .5 .3-7.7 .4 10.8 .3-2.6 .4-3.1 .3-.5 .4-13.1 .3 27 .4-6.5 .3-2.3 .4-4.4 .3 6 .4-10.4 .3-.7 .4 3.4 .3 13 .4-12.7 .3 4 .4-8.6 .3 13.5 .4-11.8 .3 1.9 .4 2.7 .3-7.8 .4 3.6 .3 5.6 .4-2.1 .3 8 .4-14.9 .3 5 .4 7.5 .3 3.2 .4-.2 .3-3.7 .4-.9 .3 2.8 .4 4.8 .3-22.2 .4 12.5 .3-9.9 .4 .6 .3-4.4 .4 10.8 .3 16.6 .4-14 .3-1.6 .4-3.8 .3 5.7 .4 7.6 .3-15.8 .4 7.8 .3 3.5 .4 .8 .3-9.6 .4 2.5 .3 4.4 .4-6.3 .3 9.1 .4-1.6 .3 9.2 .4-16.3 .3 10.6 .4-13.5 .3 6.1 .4-6.5 .3 8.7 .4 5.1 .3 2.9 .4-9.2 .3 1.8 .4-10.3 .3 7.7 .4 5.4 .3-4.6 .4 4.6 .3-9.8 .4-3.3 .3 8.6 .4 14.3 .3-13.2 .4 4.5 .3-8.5 .4-.7 .3-6.5 .4 10.5 .3 7 .4-9.9 .3 3.7 .4 9.2 .3-.8 .4-5.5 .3 2.1 .4 6 .3-12.4 .4-6.4 .3 9.3 .4 2.3 .3 2.9 .4-15.3 .3 6.6 .4 1.2 .3 2.5 .4 12 .3-10 .4-2.6 .3-3.3 .4 16.4 .3-13.5 .4-8.9 .3 4.5 .4 7.1 .3-4.7 .4 5.2 .3-1.6 .4 3.2 .3-2.8 .4-1.4 .3 9.8 .4-11.7 .3-1.3 .4 12 .3 1.2 .4-19.3 .3 16 .4 3.5 .3-8.2 .4-1.2 .3 1.7 .4 4.7"/>
</g>
<g id="inset-curves" fill="none" stroke="#383838" stroke-width="1.55" stroke-linejoin="round">
<path d="M1118 584.3l1.8-2.6 1.7 4.8 1.8 4.1 1.8 2 1.7-4.9 1.8-3.2 1.8-3.9 1.8 3.5 1.7 .6 1.8-9.8 1.8-10.5 1.7-2.3 1.8 9.4 1.8-7.9 1.7-10.4 1.8 5.4 1.8-10.3 1.8-2.9 .7-1.6 1 5.2 1.8 16.7 1.8 7.1 1.7 .5 1.8 7.4 1.8 4.7 1.7-13.6 1.8 9.6 1.8-3.2 1.8 3 1.7-5.7 1.8 5.4 1.8-.9 1.7-1.9 1.8-4 1.8 2.4 1.7-8.2 1.8-1.4 1.8 4.2 1.8-9.3 1.7 7.3 1.8-5.8 1.8-16.9 1.7 6.3 1.8-8.9 1.8 2.5 1.7-2.6 1.8-12 1.8-.4 1.8-11.5 1.7-5.8 1.8-21.2 1.8-8.3 1.7-27.7 1.8-18.7 1.8-34.4 1.7-19.5 1.8-34.8 1.8-38.6 1.8-61.9 1.7-58.7 1.8-48.7 1.8-45.8 1-24.7 .7 13.5 1.8 25.5 1.8 27.7 1.7 21.7 1.8 22.9 1.8 20.7 1.8 22.8 1.7 25.1 1.8 24.1 1.8 21.4 1.7 22.7 1.8 17.1 1.8 35.1 1.7 42.4 1.8 46 1.8 14.1 1.8 17 1.7 8.1 1.8 16 1.8-2 1.7 1.7 1.8 1.6 1.8-15.4 1.7-9.1 1.8-12.9 1.8-15.2 1.8-9.4 1.7-1.1 1.8-23.8 1.8-16.8 1.7-16.1 1.2-1.3 .6 2.1 1.8 11.1 1.7 4.2 1.8 7 1.8-10.1 1.8-8.8 1.7-5.5 1.8-10.5 1.4-4.1 .4 10.3 1.7 3.3 1.8 .7 1.8 26.6 1.7 5.1 1.8 6.2 1.8 21.6 1.8 10 1.7 21.4 1.8 24.3 1.8 8.9 1.7 12.5 1.8 12.5 1.8-1.6 1.7 6.5 1.8 9.7 1.8-13.2 1.8 6.5 1.7-2.8 1.8-3.7 1.8-.1 1.7 4.4 1.8 1.8 1.8-4.6 1.7 2.4 1.8 2.9 1.8-2.2 1.8 2.4 1.7-2.1 1.8-1.3 1.8 4.5 1.7-7.2 1.8 1.4 1.8 7.7 1.7-2.5 1.8 7.8 1.8 10.5 1.8 4.6 1.7 9.5 1.8-1.8 1.8-7.4 1.7 14.3 1.8-5.3 1.8-11.3 1.7 9.8 1.8-7.5 1.8-9.9 1.8 5 1.7 .9 1.8 11 1.8-9.6 1.7 3.9 1.8 1.2 1.8 .9 1.7-1.1 1.8 6.6 1.8 5.3 1.8-.7 1.7-5.8 1.8 .4 1.8 6.2 1.7-4.1 1.8-.1 1.8-5.2 1.7 16.3 1.8-5.1 1.8-9.1 1.8 8.3 1.7 1.9 1.8-17.2 1.8 8.5 1.7 .7 1.8 4.8 1.8-3.6 1.7-.5 1.8 .8 1.8 7.5 1.8-.3 1.7-14.1 1.8-3.7 1.8 14.9 1.7-18.6 1.8 .1 1.8 1 1.7 .3 1.8 1 1.8-2.5 1.8-5.3 1.7 6.8 1.8-.7 1.8 13.2 1.7-13.5 1.8-8.6 1.8-1.5 1.7 8.6 1.8-12 1.8-9.8 1.8 4.8 1.7 .6 1.8 3.3 1.8-10.7 1.7 13.1 1.8 5.9 1.8-3.4 1.7 9.1 1.8 13.8 1.8 4.5 1.8 .3 1.7-3.4 1.8 2.7 1.8-6.9 1.7-.8 1.8-4.5 1.8 3 1.7-1.4 1.8 12.3 1.8-13.5 1.8 7 1.7 .4 1.8-6.8 1.8 6.4 1.7-15.2 1.8 10.7 1.8 3.7 1.7-14.8 1.8 2.7 1.8 12.5 1.8-8.1 1.7-5.9 1.8 1.3 1.8-2.9 1.7 3.8 1.8-3.3 1.8-5.3 1.7-5.3 1.8 2.8 1.8 4.6 1.8-5.3 1.7-1.4 1.8-4.6 1.8-5.2 1.7 2.6 1.8 6.3 1.8-2.5 1.7-4.7 1.8-3.2 1.8 7.9 1.8-2.1 1.7 0 1.8 .1 1.8 3.2 1.7 2.5 1.8 5.5 1.8 2.2 1.7 4.3 1.8 .9 1.8-1.6 1.8 5 1.7 6.2 1.8 0 1.8 7.7 1.7 5.9 1.8-6.7 1.8-7.1 1.7 20.9 1.8-3.2 1.8 5.5 1.8-11.4 1.7 10.9 1.8-7.9 1.8-7.3 1.7-1.4 1.8 2.3 1.8-1.1 1.7-.3 1.8-3.6 1.8 11.1 1.8-5.7 1.7 .7 1.8 .3 1.8-10.9 1.7 14.1 1.8-3 1.8 1 1.7 2.5 1.8-4 1.8 9.2 1.8-6.2 1.7-.1 1.8 1 1.8 4.7 1.7 2.5 1.8-8 1.8-2.8 1.7 11.7 1.8-10 1.8 10.2 1.8-5.9 1.7-3.1 1.8 .1 1.8 4.8 1.7 1.7 1.8-5.3 1.8 4.9 1.7 5 1.8-10.9 1.8-4.7 1.8 .2 1.7-1.9 1.8 3.1 1.8-.3 1.7-2.3 1.8 10.4 1.8-15.4 1.7 6.4 1.8 15.8 1.8-4.1 1.8-1.9 1.7 .2 1.8 6.5 1.8-5.3 1.7-2.2 1.8-6.6 1.8 4.6 1.7-3.6 1.8-.6 1.8-.6 1.8 3.1 1.7 .2 1.8 7.1 1.8-8.6 1.7 6.9 1.8 10.8 1.8-6.8 1.7 5.6 1.8-.4 1.8 .8 1.8-2.7 1.7-9.8 1.8 5.1 1.8-.6 1.7-5.4 1.8 4.9 1.8-3.7 1.7-1.9 1.8 8.5 1.8-1.2 1.8-3 1.7-1.3 1.8 1.9 1.8 .6 1.7-.1 1.8 1.6 1.8-2.8 1.7 2.6 1.8-.5 1.8-1.8 1.8-7.7 1.7 .9 1.8 2.1 1.8-6.4 1.7-2.9 1.8-14.8 1.8-4.5 1.7 4.6 1.8-9 1.8-7.6 .4-3 1.4 3.7 1.7 5.5 1.8-.7 1.8 16.7 1.7-.9 1.8 9.1 1.8 2.5 1.7 4.3 1.8 6.8 1.8-2.4 1.8 4.4 1.7 .4 1.8 4.1 1.8 11.3 1.7-7.4 1.8 9 1.8 .3 1.7-.9 1.8-3.3 1.8-12 1.8 2.8 1.7 2 1.8-14.2 1.8-.7 1.7-6.7 1.8 .9 1.8-10.1 1.7 8.7 1.8-13.4 1.8-10.1 1.8 10.6 1.7-8.2 1.8-4.6 1.8-2.5 1.7-6.6 1.8 2.2 1.8 6 1.7 2.6 1.8 2.2 1.8 0 1.8 .2 1.7 4.5 1.8 9.4 1.8 5 1.7-4.8 1.8 2.8 1.8 11.4 1.7-1.6 1.8-2.2 1.8-11.4 1.8 2.2 1.7-2.8 1.8 1.9 1.8-10 1.7 12.3 1.8-2.6 1.8 4.2 1.7-3.7 1.8 9.7 1.8 10.7 1.8-9.5 1.7 12.4 1.8 5.6 1.8-2.7 1.7 9.6 1.8-4.5 1.8 8 1.7-2.5 1.8-.6 1.8 9 1.8-4.7 1.7 5.9 1.8-15.2 1.8 2.5 1.7 6.7 1.8 .3 1.8-4.5 1.7 3.8 1.8-11.4 1.8 8.7 1.8-6.3 1.7 6.7 1.8-3.8 1.8-.8 1.7 3.2 1.8 13 1.8-18.1 1.7 1.9 1.8 7.3 1.8-7.3 1.8 9.6 1.7-7.5 1.8-1.1 1.8 1.8 1.7 4.9 1.8-5.4 1.8-1.1 1.7-1.7 1.8-8.8 1.8 3.4 1.8 11.6 1.7-2.2 1.8-.7 1.8 1.4 1.7-4.7 1.8 4.8 1.8-5 1.7 6.6 1.8-4.5 1.8 3 1.8 3.7 1.7-3 1.8 4.5 1.8-1 1.7-.6 1.8 4.4 1.8-17.1 1.7 3.4 1.8 10.1 1.8 1.4 1.8 4.8 1.7-5.9 1.8 .3 1.8-8 1.7 7.4 1.8-.5 1.8-8 1.7 .6 1.8 3.5 1.8 1.7"/>
<path d="M1118 723l1.8-1 1.7-4.7 1.8-4.9 1.8-.4 1.7-4 1.8 2.6 1.8 3.6 1.8-9.3 1.7-.7 1.8 4.5 1.8-.8 1.7-1.2 1.8-4.5 1.8 3.6 1.7 2.8 1.8-8.7 1.8 3.5 1.8-6.2 1.7 2.2 1.8-4.5 1.8 4.6 1.7-6.5 1.8 4.2 1.8-2.9 1.7-3.8 1.8-12.2 1.8 5.9 1.8-.3 1.7-1.8 1.8-9.3 1.8 2.1 1.7-4.5 1.8-1.7 1.8 5.4 1.7-10.9 1.8-1.2 1.8-.6 1.8-10.6 1.7-2.5 1.8-3.5 1.8-4.9 1.7-13.5 1.8-2.6 1.8-2.8 1.7-20.3 1.8 2.7 1.8-7.9 1.8-8.6 1.7 6 1.8-10.3 1.8-23 1.7-5.9 1.8-12.3 1.8-15.2 1.7-5.4 1.8-12.2 1.8-6 1.8-5.8 1.7-16.4 1.8-3.3 1.8-9.9 1.7-3.6 1.8-10 1.8-2 .4 .6 1.3 13.1 1.8 12.1 1.8 1.1 1.8 14.2 1.7 18.1 1.8 1.7 1.8 19.4 1.7 14.6 1.8 11.7 1.8 .5 1.7-1.3 1.8 2.7 1.8 3.3 1.8 12.7 1.7-2.5 1.8 6.2 1.8 8.4 1.7 3.9 1.8 6.7 1.8 3.2 1.7 11.7 1.8 4.3 1.8 5.6 1.8-3.4 1.7-4 1.8 1.8 1.8-5.3 1.7 4.7 1.8-5.7 1.8-2.3 1.7-12.6 1.8 2.2 1.8-13.3 1.8-3.7 1.7 5.5 1.8-4.3 1.8 2.7 1.7 10.1 1.8-13.3 1.8 4.8 1.7 5.2 1.8 4.3 1.8 .4 1.8 3.1 1.7 7.1 1.8 4.6 1.8 .5 1.7 11.1 1.8 7.6 1.8 .7 1.7 9.7 1.8-.6 1.8 11.9 1.8 .9 1.7 3.5 1.8-1.8 1.8 3.2 1.7-6.8 1.8 4.8 1.8 7.4 1.7-9.4 1.8 13.7 1.8-9.5 1.8 11.9 1.7-5.4 1.8 8.3 1.8-1.4 1.7-5.6 1.8 13.1 1.8 2.5 1.7-2.1 1.8 3.4 1.8 4.4 1.8 1.2 1.7 11.5 1.8-6.1 1.8 2.9 1.7-2.3 1.8 1.5 1.8-2 1.7 11.5 1.8-5.1 1.8 5.6 1.8-3.2 1.7-2.1 1.8 2.4 1.8-.1 1.7 3.2 1.8-.7 1.8 1.1 1.7-4.2 1.8 2.6 1.8 10.4 1.8-9.6 1.7-1.5 1.8 6 1.8 4.7 1.7-11.9 1.8 5.4 1.8-1.7 1.7-4.6 1.8 10.7 1.8-3.1 1.8 .5 1.7-5.1 1.8 7.2 1.8-3.9 1.7 1.9 1.8-3.8 1.8-.2 1.7 11 1.8-7.5 1.8 3.6 1.8-1.1 1.7-1.5 1.8 0 1.8 5 1.7-3.6 1.8 .9 1.8 .9 1.7 5.1 1.8-1.8 1.8-1 1.8-3.8 1.7-3.2 1.8 10.1 1.8 .3 1.7-4.4 1.8 3.1 1.8 1.2 1.7 .5 1.8 .6 1.8-5.6 1.8 8.6 1.7-11.3 1.8 9.1 1.8-1.3 1.7 1.9 1.8 4.5 1.8-1.4 1.7-10.8 1.8-2 1.8 10.8 1.8-7.5 1.7 4.1 1.8 3.5 1.8-10.5 1.7-2.1 1.8 9.8 1.8-1 1.7-1.3 1.8 1.1 1.8-4 1.8-4.7 1.7 3.7 1.8-5.3 1.8-4.8 1.7 7.1 1.8-4.4 1.8 .8 1.7-6 1.8 1.2 1.8-1.5 1.8 .3 1.7 4.4 1.8-4.2 1.8 4.7 1.7-.2 1.8 6.9 1.8-14.5 1.7 9.5 1.8-4.5 1.8 .4 1.8-6.1 1.7 4 1.8 5 1.8-3.4 1.7 .6 1.8-1.5 1.8 6 1.7-4.9 1.8-9.1 1.8 6.3 1.8-4.9 1.7-4.5 1.8 12.4 1.8 8.7 1.7-4.5 1.8-4.2 1.8 1.8 1.7 9.6 1.8-3.2 1.8 .5 1.8 .4 1.7 1.2 1.8 3.7 1.8-.6 1.7-.9 1.8-4.7 1.8 7 1.7-4.5 1.8 8 1.8-9.5 1.8 5.3 1.7 1.1 1.8-5.1 1.8 13.3 1.7-.6 1.8-7.5 1.8 5.7 1.7-1 1.8-11.7 1.8 12.8 1.8-.5 1.7 1.5 1.8-4.1 1.8 4.2 1.7 1.2 1.8 6.6 1.8-2.8 1.7-.6 1.8 6.4 1.8-9.2 1.8 .2 1.7-6.5 1.8 13.8 1.8-3 1.7-.7 1.8-1.5 1.8-2.9 1.7 0 1.8-2.4 1.8-.3 1.8 .6 1.7 5.6 1.8-4.6 1.8-3.1 1.7-2.7 1.8-.8 1.8 8.9 1.7-5.1 1.8-2.4 1.8-2.3 1.8-3 1.7 5 1.8 4.5 1.8-4.8 1.7 1.3 1.8 .6 1.8 1.9 1.7-6.6 1.8 6.3 1.8-2 1.8 7.9 1.7-6.4 1.8 6.2 1.8 4.5 1.7-7.3 1.8-1 1.8 3.5 1.7-.6 1.8-4 1.8 6.3 1.8 6.7 1.7-9.4 1.8 .5 1.8-3.4 1.7 5.9 1.8-6.4 1.8 .8 1.7 10.2 1.8-8.9 1.8 8.5 1.8 1.7 1.7-5.5 1.8 .9 1.8 5.7 1.7-9.3 1.8-1.9 1.8-3.5 1.7 5.6 1.8 5.8 1.8-2.4 1.8-8.3 1.7 .1 1.8 1.3 1.8 3.1 1.7-2.4 1.8 1.5 1.8 .8 1.7-3.6 1.8 .8 1.8 .7 1.8-1.5 1.7 2.1 1.8 5.5 1.8-5.7 1.7-2.6 1.8-7.6 1.8 8.4 1.7-10.2 1.8-1.6 1.8 12.8 1.8-1 1.7-3.8 1.8-6.3 1.8 5.9 1.7-1.1 1.8 7.4 1.8 5.5 1.7-7.8 1.8-4.5 1.8-1.5 1.8 4.2 1.7-1.1 1.8-4.6 1.8 4.8 1.7-5.8 1.8 9 1.8-.7 1.7-.7 1.8-7.8 1.8 3 1.8-3.8 1.7-2.3 1.8-.9 1.8-5.2 1.7-1.8 1.8 8.2 1.8-5.3 1.7 1.6 1.8 2.1 1.8-12.2 1.8 3.3 1.7 3.4 1.8 .2 1.8-3.1 1.7 6.1 1.8-3.3 1.8-5.9 1.7 1.3 1.8 7.4 1.8-1.3 1.8-9.6 1.7 15.3 1.8-1.4 1.8 4.9 1.7-6.5 1.8 3 1.8-1.8 1.7 17.2 1.8-9.7 1.8 8.3 1.8-8.5 1.7 4.3 1.8-6.8 1.8 6.3 1.7 6.6 1.8-8.5 1.8 10.6 1.7-2.3 1.8-5.1 1.8 3 1.8 .9 1.7 2.4 1.8-1.3 1.8-.5 1.7 2.9 1.8-2.3 1.8-.4 1.7 6 1.8 4 1.8-10.1 1.8 6.6 1.7-2.7 1.8-1.3 1.8 7.8 1.7-7 1.8 9.8 1.8-9.5 1.7 5 1.8-2.5 1.8-2.1 1.8 5.7 1.7-3 1.8 3.4 1.8-2.7 1.7-4.2 1.8 4 1.8 1 1.7 4 1.8-7.7 1.8 3.7 1.8-6.9 1.7 10.1 1.8-7.2 1.8-2.9 1.7 7.5 1.8 5 1.8-11 1.7 1.8 1.8 1.5 1.8-1.6 1.8 6.3 1.7-5 1.8 .4 1.8 5.4 1.7-5.6 1.8 5 1.8-5.9 1.7-1 1.8-2.2 1.8 17.1 1.8-7.6 1.7 3.9 1.8 .4 1.8 2.3 1.7 1.1 1.8 8.1 1.8-12.5 1.7-2.2 1.8 2.2 1.8-1.4 1.8 8.7 1.7 .2 1.8-7.5 1.8-1.9 1.7 4.3 1.8 7.3 1.8-17.8 1.7 14 1.8-6.8 1.8 8.8"/>
</g>
<g id="main-axes" fill="none" stroke="#000" stroke-width="6">
<path d="M178.8 51.3H2043.8" stroke-width="4.8" stroke-linecap="round"/>
<path d="M178.8 1371.8H2043.8" stroke-width="4.2" stroke-linecap="round"/>
<path d="M178.8 51.3V1371.6M2043.8 51.3V1371.6" stroke-width="5.7" stroke-linecap="round"/>
<g stroke-width="5.6"><line x1="178.8" y1="1371.6" x2="178.8" y2="1385.6"/><line x1="386.0" y1="1371.6" x2="386.0" y2="1398.0"/><line x1="593.2" y1="1371.6" x2="593.2" y2="1385.6"/><line x1="800.5" y1="1371.6" x2="800.5" y2="1398.0"/><line x1="1007.7" y1="1371.6" x2="1007.7" y2="1385.6"/><line x1="1214.9" y1="1371.6" x2="1214.9" y2="1398.0"/><line x1="1422.1" y1="1371.6" x2="1422.1" y2="1385.6"/><line x1="1629.4" y1="1371.6" x2="1629.4" y2="1398.0"/><line x1="1836.6" y1="1371.6" x2="1836.6" y2="1385.6"/><line x1="2043.8" y1="1371.6" x2="2043.8" y2="1398.0"/></g>
</g>
<g id="inset-axes" fill="none" stroke="#222" stroke-width="3.2">
<path d="M1117.8 70.0V785.0" stroke-width="3"/>
<path d="M1116.3 784.0H2001.8" stroke="#404040" stroke-width="4"/>
<g stroke="#333" stroke-width="2.8"><line x1="1117.8" y1="784.0" x2="1117.8" y2="798.5"/><line x1="1206.0" y1="784.0" x2="1206.0" y2="791.5"/><line x1="1294.3" y1="784.0" x2="1294.3" y2="798.5"/><line x1="1382.5" y1="784.0" x2="1382.5" y2="791.5"/><line x1="1470.8" y1="784.0" x2="1470.8" y2="798.5"/><line x1="1559.0" y1="784.0" x2="1559.0" y2="791.5"/><line x1="1647.3" y1="784.0" x2="1647.3" y2="798.5"/><line x1="1735.5" y1="784.0" x2="1735.5" y2="791.5"/><line x1="1823.8" y1="784.0" x2="1823.8" y2="798.5"/><line x1="1912.0" y1="784.0" x2="1912.0" y2="791.5"/><line x1="2000.3" y1="784.0" x2="2000.3" y2="798.5"/></g>
</g>
<g id="arrows" stroke="#111" stroke-width="2.7" fill="#111">
<line x1="1150.7" y1="384" x2="1150.7" y2="492"/><path d="M1145 487.8L1156.4 487.8L1150.7 507Z" stroke="none"/>
<line x1="1286.5" y1="231" x2="1286.5" y2="321"/><path d="M1281 316.5L1292 316.5L1286.5 337.5Z" stroke="none"/>
</g>
<g id="main-text" stroke="#000" stroke-width="0.5">
<text transform="translate(386.0 1468) scale(1.17 1)" text-anchor="middle" font-size="67">10</text><text transform="translate(800.5 1468) scale(1.17 1)" text-anchor="middle" font-size="67">20</text><text transform="translate(1214.9 1468) scale(1.17 1)" text-anchor="middle" font-size="67">30</text><text transform="translate(1629.4 1468) scale(1.17 1)" text-anchor="middle" font-size="67">40</text><text transform="translate(2043.8 1468) scale(1.17 1)" text-anchor="middle" font-size="67">50</text>
<text transform="translate(1559.5 983) scale(1.123 1)" font-size="73.3">Silicalite-1</text>
<text transform="translate(1438.5 1220) scale(1.134 1)" font-size="73.3">Nb(0.05)-Si-1</text>
<text transform="translate(97 927) rotate(-90) scale(1 1.143)" font-size="74.4">Intensity (a.u.)</text>
<text transform="translate(1066.3 1590.5) scale(1.11 1)" font-size="77">2</text>
<text transform="translate(1114.2 1590.2) scale(1.24 1)" font-size="66.5" font-family="'Liberation Serif', 'Times New Roman', serif">θ</text>
</g>
<rect x="10" y="1032" width="4" height="4.5" fill="#7a7a7a"/>
<g id="inset-text" fill="#151515" stroke="#151515" stroke-width="0.3">
<text transform="translate(1117.3 836.4) scale(0.96 1)" text-anchor="middle" font-size="39">22</text><text transform="translate(1293.8 836.4) scale(0.96 1)" text-anchor="middle" font-size="39">24</text><text transform="translate(1470.3 836.4) scale(0.96 1)" text-anchor="middle" font-size="39">26</text><text transform="translate(1646.8 836.4) scale(0.96 1)" text-anchor="middle" font-size="39">28</text><text transform="translate(1823.3 836.4) scale(0.96 1)" text-anchor="middle" font-size="39">30</text><text transform="translate(1999.8 836.4) scale(0.96 1)" text-anchor="middle" font-size="39">32</text>
<text x="1608.3" y="541" font-size="39.6">Silicalite-1</text>
<text x="1600.6" y="679.8" font-size="39.9">Nb(0.05)-Si-1</text>
<text transform="translate(1080.6 547.5) rotate(-90) scale(1 1.04)" font-size="40">Intensity (a.u.)</text>
<text x="1539.5" y="902" font-size="37.5">2<tspan font-family="'Liberation Serif', 'Times New Roman', serif" font-size="36">θ</tspan></text>
</g>
</svg>
</body>
</html>
